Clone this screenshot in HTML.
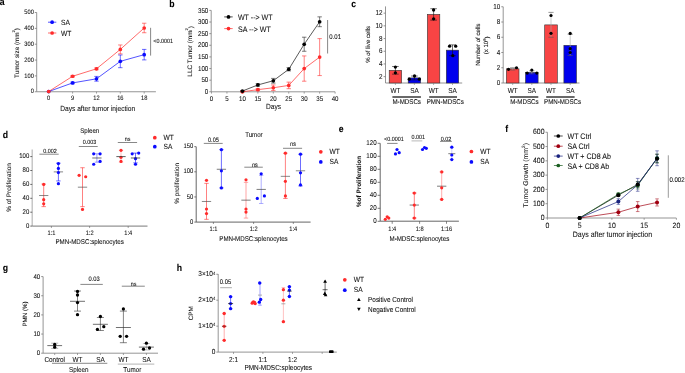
<!DOCTYPE html>
<html><head><meta charset="utf-8"><style>
html,body{margin:0;padding:0;background:#fff;width:685px;height:373px;overflow:hidden}
svg{display:block;will-change:transform;text-rendering:geometricPrecision;font-family:"Liberation Sans", sans-serif}
</style></head><body>
<svg width="685" height="373" viewBox="0 0 685 373">
<rect width="685" height="373" fill="#fff"/>
<text transform="translate(-0.3 1.5) scale(1 1.13)" font-size="8.7" text-anchor="start" fill="#000" stroke="#000" stroke-width="0.07" font-weight="bold" dominant-baseline="central">a</text>
<line x1="36.7" y1="12.5" x2="36.7" y2="91.75" stroke="#7a7a7a" stroke-width="0.8"/>
<line x1="34.8" y1="91.75" x2="36.7" y2="91.75" stroke="#7a7a7a" stroke-width="0.8"/>
<text transform="translate(33.8 92.25) scale(1 1.13)" font-size="5.7" text-anchor="end" fill="#111" stroke="#111" stroke-width="0.07" font-weight="normal" dominant-baseline="central">0</text>
<line x1="34.8" y1="75.9" x2="36.7" y2="75.9" stroke="#7a7a7a" stroke-width="0.8"/>
<text transform="translate(33.8 76.4) scale(1 1.13)" font-size="5.7" text-anchor="end" fill="#111" stroke="#111" stroke-width="0.07" font-weight="normal" dominant-baseline="central">100</text>
<line x1="34.8" y1="60.05" x2="36.7" y2="60.05" stroke="#7a7a7a" stroke-width="0.8"/>
<text transform="translate(33.8 60.55) scale(1 1.13)" font-size="5.7" text-anchor="end" fill="#111" stroke="#111" stroke-width="0.07" font-weight="normal" dominant-baseline="central">200</text>
<line x1="34.8" y1="44.2" x2="36.7" y2="44.2" stroke="#7a7a7a" stroke-width="0.8"/>
<text transform="translate(33.8 44.7) scale(1 1.13)" font-size="5.7" text-anchor="end" fill="#111" stroke="#111" stroke-width="0.07" font-weight="normal" dominant-baseline="central">300</text>
<line x1="34.8" y1="28.35" x2="36.7" y2="28.35" stroke="#7a7a7a" stroke-width="0.8"/>
<text transform="translate(33.8 28.85) scale(1 1.13)" font-size="5.7" text-anchor="end" fill="#111" stroke="#111" stroke-width="0.07" font-weight="normal" dominant-baseline="central">400</text>
<line x1="34.8" y1="12.5" x2="36.7" y2="12.5" stroke="#7a7a7a" stroke-width="0.8"/>
<text transform="translate(33.8 13) scale(1 1.13)" font-size="5.7" text-anchor="end" fill="#111" stroke="#111" stroke-width="0.07" font-weight="normal" dominant-baseline="central">500</text>
<line x1="36.7" y1="91.75" x2="155.9" y2="91.75" stroke="#7a7a7a" stroke-width="0.8"/>
<line x1="48.7" y1="91.75" x2="48.7" y2="93.55" stroke="#7a7a7a" stroke-width="0.7"/>
<text transform="translate(48.7 98.6) scale(1 1.13)" font-size="5.7" text-anchor="middle" fill="#111" stroke="#111" stroke-width="0.07" font-weight="normal" dominant-baseline="central">0</text>
<line x1="72.6" y1="91.75" x2="72.6" y2="93.55" stroke="#7a7a7a" stroke-width="0.7"/>
<text transform="translate(72.6 98.6) scale(1 1.13)" font-size="5.7" text-anchor="middle" fill="#111" stroke="#111" stroke-width="0.07" font-weight="normal" dominant-baseline="central">9</text>
<line x1="96.5" y1="91.75" x2="96.5" y2="93.55" stroke="#7a7a7a" stroke-width="0.7"/>
<text transform="translate(96.5 98.6) scale(1 1.13)" font-size="5.7" text-anchor="middle" fill="#111" stroke="#111" stroke-width="0.07" font-weight="normal" dominant-baseline="central">12</text>
<line x1="120.3" y1="91.75" x2="120.3" y2="93.55" stroke="#7a7a7a" stroke-width="0.7"/>
<text transform="translate(120.3 98.6) scale(1 1.13)" font-size="5.7" text-anchor="middle" fill="#111" stroke="#111" stroke-width="0.07" font-weight="normal" dominant-baseline="central">16</text>
<line x1="144.2" y1="91.75" x2="144.2" y2="93.55" stroke="#7a7a7a" stroke-width="0.7"/>
<text transform="translate(144.2 98.6) scale(1 1.13)" font-size="5.7" text-anchor="middle" fill="#111" stroke="#111" stroke-width="0.07" font-weight="normal" dominant-baseline="central">18</text>
<text transform="translate(97.7 108.9) scale(1 1.13)" font-size="6.6" text-anchor="middle" fill="#111" stroke="#111" stroke-width="0.07" font-weight="normal" dominant-baseline="central">Days after tumor injection</text>
<text transform="translate(17.2 53) rotate(-90)" font-size="6.35" text-anchor="middle" fill="#111" stroke="#111" stroke-width="0.07" font-weight="normal" dominant-baseline="central">Tumor size (mm<tspan dy="-4.6" font-size="4.0">2</tspan><tspan dy="4.6">)</tspan></text>
<line x1="72.6" y1="82.13" x2="72.6" y2="83.72" stroke="#0a0aff" stroke-width="0.6"/>
<line x1="70.4" y1="82.13" x2="74.8" y2="82.13" stroke="#0a0aff" stroke-width="0.6"/>
<line x1="70.4" y1="83.72" x2="74.8" y2="83.72" stroke="#0a0aff" stroke-width="0.6"/>
<line x1="72.6" y1="75.46" x2="72.6" y2="77.05" stroke="#ff2b2b" stroke-width="0.6"/>
<line x1="70.4" y1="75.46" x2="74.8" y2="75.46" stroke="#ff2b2b" stroke-width="0.6"/>
<line x1="70.4" y1="77.05" x2="74.8" y2="77.05" stroke="#ff2b2b" stroke-width="0.6"/>
<line x1="96.5" y1="76.41" x2="96.5" y2="81.18" stroke="#0a0aff" stroke-width="0.6"/>
<line x1="94.3" y1="76.41" x2="98.7" y2="76.41" stroke="#0a0aff" stroke-width="0.6"/>
<line x1="94.3" y1="81.18" x2="98.7" y2="81.18" stroke="#0a0aff" stroke-width="0.6"/>
<line x1="96.5" y1="67.84" x2="96.5" y2="69.74" stroke="#ff2b2b" stroke-width="0.6"/>
<line x1="94.3" y1="67.84" x2="98.7" y2="67.84" stroke="#ff2b2b" stroke-width="0.6"/>
<line x1="94.3" y1="69.74" x2="98.7" y2="69.74" stroke="#ff2b2b" stroke-width="0.6"/>
<line x1="120.3" y1="54.98" x2="120.3" y2="67.68" stroke="#0a0aff" stroke-width="0.6"/>
<line x1="118.1" y1="54.98" x2="122.5" y2="54.98" stroke="#0a0aff" stroke-width="0.6"/>
<line x1="118.1" y1="67.68" x2="122.5" y2="67.68" stroke="#0a0aff" stroke-width="0.6"/>
<line x1="120.3" y1="44.97" x2="120.3" y2="53.86" stroke="#ff2b2b" stroke-width="0.6"/>
<line x1="118.1" y1="44.97" x2="122.5" y2="44.97" stroke="#ff2b2b" stroke-width="0.6"/>
<line x1="118.1" y1="53.86" x2="122.5" y2="53.86" stroke="#ff2b2b" stroke-width="0.6"/>
<line x1="144.2" y1="49.42" x2="144.2" y2="59.9" stroke="#0a0aff" stroke-width="0.6"/>
<line x1="142" y1="49.42" x2="146.4" y2="49.42" stroke="#0a0aff" stroke-width="0.6"/>
<line x1="142" y1="59.9" x2="146.4" y2="59.9" stroke="#0a0aff" stroke-width="0.6"/>
<line x1="144.2" y1="23.22" x2="144.2" y2="32.74" stroke="#ff2b2b" stroke-width="0.6"/>
<line x1="142" y1="23.22" x2="146.4" y2="23.22" stroke="#ff2b2b" stroke-width="0.6"/>
<line x1="142" y1="32.74" x2="146.4" y2="32.74" stroke="#ff2b2b" stroke-width="0.6"/>
<polyline points="48.7,91.5 72.6,82.92 96.5,78.8 120.3,61.33 144.2,54.66" fill="none" stroke="#0a0aff" stroke-width="0.7"/>
<polyline points="48.7,91.5 72.6,76.26 96.5,68.79 120.3,49.42 144.2,27.98" fill="none" stroke="#ff2b2b" stroke-width="0.7"/>
<circle cx="48.7" cy="91.5" r="1.85" fill="#0a0aff"/>
<circle cx="72.6" cy="82.92" r="1.85" fill="#0a0aff"/>
<circle cx="96.5" cy="78.8" r="1.85" fill="#0a0aff"/>
<circle cx="120.3" cy="61.33" r="1.85" fill="#0a0aff"/>
<circle cx="144.2" cy="54.66" r="1.85" fill="#0a0aff"/>
<circle cx="48.7" cy="91.5" r="1.85" fill="#ff2b2b"/>
<circle cx="72.6" cy="76.26" r="1.85" fill="#ff2b2b"/>
<circle cx="96.5" cy="68.79" r="1.85" fill="#ff2b2b"/>
<circle cx="120.3" cy="49.42" r="1.85" fill="#ff2b2b"/>
<circle cx="144.2" cy="27.98" r="1.85" fill="#ff2b2b"/>
<line x1="150.6" y1="27.8" x2="150.6" y2="55.6" stroke="#555" stroke-width="0.7"/>
<text transform="translate(153.3 42) scale(1 1.13)" font-size="5.4" text-anchor="start" fill="#111" stroke="#111" stroke-width="0.07" font-weight="normal" dominant-baseline="central">&lt;0.0001</text>
<line x1="48" y1="22.2" x2="56.3" y2="22.2" stroke="#0a0aff" stroke-width="0.7"/>
<circle cx="52.1" cy="22.2" r="1.85" fill="#0a0aff"/>
<text transform="translate(61 23.2) scale(1 1.13)" font-size="6.7" text-anchor="start" fill="#111" stroke="#111" stroke-width="0.07" font-weight="normal" dominant-baseline="central">SA</text>
<line x1="48" y1="33" x2="56.3" y2="33" stroke="#ff2b2b" stroke-width="0.7"/>
<circle cx="52.1" cy="33" r="1.85" fill="#ff2b2b"/>
<text transform="translate(61 34) scale(1 1.13)" font-size="6.7" text-anchor="start" fill="#111" stroke="#111" stroke-width="0.07" font-weight="normal" dominant-baseline="central">WT</text>
<text transform="translate(169.3 3.7) scale(1 1.13)" font-size="8.7" text-anchor="start" fill="#000" stroke="#000" stroke-width="0.07" font-weight="bold" dominant-baseline="central">b</text>
<line x1="211.2" y1="10.4" x2="211.2" y2="91.8" stroke="#7a7a7a" stroke-width="0.8"/>
<line x1="209.3" y1="91.8" x2="211.2" y2="91.8" stroke="#7a7a7a" stroke-width="0.8"/>
<text transform="translate(208.3 92.3) scale(1 1.13)" font-size="6.2" text-anchor="end" fill="#111" stroke="#111" stroke-width="0.07" font-weight="normal" dominant-baseline="central">0</text>
<line x1="209.3" y1="80.17" x2="211.2" y2="80.17" stroke="#7a7a7a" stroke-width="0.8"/>
<text transform="translate(208.3 80.67) scale(1 1.13)" font-size="6.2" text-anchor="end" fill="#111" stroke="#111" stroke-width="0.07" font-weight="normal" dominant-baseline="central">50</text>
<line x1="209.3" y1="68.54" x2="211.2" y2="68.54" stroke="#7a7a7a" stroke-width="0.8"/>
<text transform="translate(208.3 69.04) scale(1 1.13)" font-size="6.2" text-anchor="end" fill="#111" stroke="#111" stroke-width="0.07" font-weight="normal" dominant-baseline="central">100</text>
<line x1="209.3" y1="56.91" x2="211.2" y2="56.91" stroke="#7a7a7a" stroke-width="0.8"/>
<text transform="translate(208.3 57.41) scale(1 1.13)" font-size="6.2" text-anchor="end" fill="#111" stroke="#111" stroke-width="0.07" font-weight="normal" dominant-baseline="central">150</text>
<line x1="209.3" y1="45.28" x2="211.2" y2="45.28" stroke="#7a7a7a" stroke-width="0.8"/>
<text transform="translate(208.3 45.78) scale(1 1.13)" font-size="6.2" text-anchor="end" fill="#111" stroke="#111" stroke-width="0.07" font-weight="normal" dominant-baseline="central">200</text>
<line x1="209.3" y1="33.65" x2="211.2" y2="33.65" stroke="#7a7a7a" stroke-width="0.8"/>
<text transform="translate(208.3 34.15) scale(1 1.13)" font-size="6.2" text-anchor="end" fill="#111" stroke="#111" stroke-width="0.07" font-weight="normal" dominant-baseline="central">250</text>
<line x1="209.3" y1="22.02" x2="211.2" y2="22.02" stroke="#7a7a7a" stroke-width="0.8"/>
<text transform="translate(208.3 22.52) scale(1 1.13)" font-size="6.2" text-anchor="end" fill="#111" stroke="#111" stroke-width="0.07" font-weight="normal" dominant-baseline="central">300</text>
<line x1="209.3" y1="10.39" x2="211.2" y2="10.39" stroke="#7a7a7a" stroke-width="0.8"/>
<text transform="translate(208.3 10.89) scale(1 1.13)" font-size="6.2" text-anchor="end" fill="#111" stroke="#111" stroke-width="0.07" font-weight="normal" dominant-baseline="central">350</text>
<line x1="211.2" y1="91.8" x2="335.1" y2="91.8" stroke="#7a7a7a" stroke-width="0.8"/>
<line x1="211.5" y1="91.8" x2="211.5" y2="93.6" stroke="#7a7a7a" stroke-width="0.7"/>
<text transform="translate(211.5 98.9) scale(1 1.13)" font-size="6.1" text-anchor="middle" fill="#111" stroke="#111" stroke-width="0.07" font-weight="normal" dominant-baseline="central">0</text>
<line x1="226.95" y1="91.8" x2="226.95" y2="93.6" stroke="#7a7a7a" stroke-width="0.7"/>
<text transform="translate(226.95 98.9) scale(1 1.13)" font-size="6.1" text-anchor="middle" fill="#111" stroke="#111" stroke-width="0.07" font-weight="normal" dominant-baseline="central">5</text>
<line x1="242.4" y1="91.8" x2="242.4" y2="93.6" stroke="#7a7a7a" stroke-width="0.7"/>
<text transform="translate(242.4 98.9) scale(1 1.13)" font-size="6.1" text-anchor="middle" fill="#111" stroke="#111" stroke-width="0.07" font-weight="normal" dominant-baseline="central">10</text>
<line x1="257.85" y1="91.8" x2="257.85" y2="93.6" stroke="#7a7a7a" stroke-width="0.7"/>
<text transform="translate(257.85 98.9) scale(1 1.13)" font-size="6.1" text-anchor="middle" fill="#111" stroke="#111" stroke-width="0.07" font-weight="normal" dominant-baseline="central">15</text>
<line x1="273.3" y1="91.8" x2="273.3" y2="93.6" stroke="#7a7a7a" stroke-width="0.7"/>
<text transform="translate(273.3 98.9) scale(1 1.13)" font-size="6.1" text-anchor="middle" fill="#111" stroke="#111" stroke-width="0.07" font-weight="normal" dominant-baseline="central">20</text>
<line x1="288.75" y1="91.8" x2="288.75" y2="93.6" stroke="#7a7a7a" stroke-width="0.7"/>
<text transform="translate(288.75 98.9) scale(1 1.13)" font-size="6.1" text-anchor="middle" fill="#111" stroke="#111" stroke-width="0.07" font-weight="normal" dominant-baseline="central">25</text>
<line x1="304.2" y1="91.8" x2="304.2" y2="93.6" stroke="#7a7a7a" stroke-width="0.7"/>
<text transform="translate(304.2 98.9) scale(1 1.13)" font-size="6.1" text-anchor="middle" fill="#111" stroke="#111" stroke-width="0.07" font-weight="normal" dominant-baseline="central">30</text>
<line x1="319.65" y1="91.8" x2="319.65" y2="93.6" stroke="#7a7a7a" stroke-width="0.7"/>
<text transform="translate(319.65 98.9) scale(1 1.13)" font-size="6.1" text-anchor="middle" fill="#111" stroke="#111" stroke-width="0.07" font-weight="normal" dominant-baseline="central">35</text>
<line x1="335.1" y1="91.8" x2="335.1" y2="93.6" stroke="#7a7a7a" stroke-width="0.7"/>
<text transform="translate(335.1 98.9) scale(1 1.13)" font-size="6.1" text-anchor="middle" fill="#111" stroke="#111" stroke-width="0.07" font-weight="normal" dominant-baseline="central">40</text>
<text transform="translate(273.5 107.7) scale(1 1.13)" font-size="6.6" text-anchor="middle" fill="#111" stroke="#111" stroke-width="0.07" font-weight="normal" dominant-baseline="central">Days</text>
<text transform="translate(190.5 51.4) rotate(-90)" font-size="6.4" text-anchor="middle" fill="#111" stroke="#111" stroke-width="0.07" font-weight="normal" dominant-baseline="central">LLC Tumor (mm<tspan dy="-4.4" font-size="4.0">2</tspan><tspan dy="4.4">)</tspan></text>
<line x1="242.4" y1="91.27" x2="242.4" y2="91.8" stroke="#ff2b2b" stroke-width="0.6"/>
<line x1="240.2" y1="91.27" x2="244.6" y2="91.27" stroke="#ff2b2b" stroke-width="0.6"/>
<line x1="240.2" y1="91.8" x2="244.6" y2="91.8" stroke="#ff2b2b" stroke-width="0.6"/>
<line x1="242.4" y1="90.56" x2="242.4" y2="91.8" stroke="#222" stroke-width="0.6"/>
<line x1="240.2" y1="90.56" x2="244.6" y2="90.56" stroke="#222" stroke-width="0.6"/>
<line x1="240.2" y1="91.8" x2="244.6" y2="91.8" stroke="#222" stroke-width="0.6"/>
<line x1="257.85" y1="88.69" x2="257.85" y2="90.56" stroke="#ff2b2b" stroke-width="0.6"/>
<line x1="255.65" y1="88.69" x2="260.05" y2="88.69" stroke="#ff2b2b" stroke-width="0.6"/>
<line x1="255.65" y1="90.56" x2="260.05" y2="90.56" stroke="#ff2b2b" stroke-width="0.6"/>
<line x1="257.85" y1="83.78" x2="257.85" y2="86.12" stroke="#222" stroke-width="0.6"/>
<line x1="255.65" y1="83.78" x2="260.05" y2="83.78" stroke="#222" stroke-width="0.6"/>
<line x1="255.65" y1="86.12" x2="260.05" y2="86.12" stroke="#222" stroke-width="0.6"/>
<line x1="273.3" y1="84.95" x2="273.3" y2="90.56" stroke="#ff2b2b" stroke-width="0.6"/>
<line x1="271.1" y1="84.95" x2="275.5" y2="84.95" stroke="#ff2b2b" stroke-width="0.6"/>
<line x1="271.1" y1="90.56" x2="275.5" y2="90.56" stroke="#ff2b2b" stroke-width="0.6"/>
<line x1="273.3" y1="78.4" x2="273.3" y2="83.08" stroke="#222" stroke-width="0.6"/>
<line x1="271.1" y1="78.4" x2="275.5" y2="78.4" stroke="#222" stroke-width="0.6"/>
<line x1="271.1" y1="83.08" x2="275.5" y2="83.08" stroke="#222" stroke-width="0.6"/>
<line x1="288.75" y1="82.14" x2="288.75" y2="88.69" stroke="#ff2b2b" stroke-width="0.6"/>
<line x1="286.55" y1="82.14" x2="290.95" y2="82.14" stroke="#ff2b2b" stroke-width="0.6"/>
<line x1="286.55" y1="88.69" x2="290.95" y2="88.69" stroke="#ff2b2b" stroke-width="0.6"/>
<line x1="288.75" y1="67.63" x2="288.75" y2="70.91" stroke="#222" stroke-width="0.6"/>
<line x1="286.55" y1="67.63" x2="290.95" y2="67.63" stroke="#222" stroke-width="0.6"/>
<line x1="286.55" y1="70.91" x2="290.95" y2="70.91" stroke="#222" stroke-width="0.6"/>
<line x1="304.2" y1="55.93" x2="304.2" y2="81.2" stroke="#ff2b2b" stroke-width="0.6"/>
<line x1="302" y1="55.93" x2="306.4" y2="55.93" stroke="#ff2b2b" stroke-width="0.6"/>
<line x1="302" y1="81.2" x2="306.4" y2="81.2" stroke="#ff2b2b" stroke-width="0.6"/>
<line x1="304.2" y1="37.21" x2="304.2" y2="51.25" stroke="#222" stroke-width="0.6"/>
<line x1="302" y1="37.21" x2="306.4" y2="37.21" stroke="#222" stroke-width="0.6"/>
<line x1="302" y1="51.25" x2="306.4" y2="51.25" stroke="#222" stroke-width="0.6"/>
<line x1="319.65" y1="38.62" x2="319.65" y2="75.59" stroke="#ff2b2b" stroke-width="0.6"/>
<line x1="317.45" y1="38.62" x2="321.85" y2="38.62" stroke="#ff2b2b" stroke-width="0.6"/>
<line x1="317.45" y1="75.59" x2="321.85" y2="75.59" stroke="#ff2b2b" stroke-width="0.6"/>
<line x1="319.65" y1="16.85" x2="319.65" y2="26.68" stroke="#222" stroke-width="0.6"/>
<line x1="317.45" y1="16.85" x2="321.85" y2="16.85" stroke="#222" stroke-width="0.6"/>
<line x1="317.45" y1="26.68" x2="321.85" y2="26.68" stroke="#222" stroke-width="0.6"/>
<polyline points="242.4,91.03 257.85,84.95 273.3,80.74 288.75,69.27 304.2,44.23 319.65,21.77" fill="none" stroke="#111" stroke-width="0.7"/>
<polyline points="242.4,91.8 257.85,89.63 273.3,87.76 288.75,85.42 304.2,68.57 319.65,57.1" fill="none" stroke="#ff2b2b" stroke-width="0.7"/>
<circle cx="242.4" cy="91.8" r="1.85" fill="#ff2b2b"/>
<circle cx="257.85" cy="89.63" r="1.85" fill="#ff2b2b"/>
<circle cx="273.3" cy="87.76" r="1.85" fill="#ff2b2b"/>
<circle cx="288.75" cy="85.42" r="1.85" fill="#ff2b2b"/>
<circle cx="304.2" cy="68.57" r="1.85" fill="#ff2b2b"/>
<circle cx="319.65" cy="57.1" r="1.85" fill="#ff2b2b"/>
<circle cx="242.4" cy="91.03" r="1.85" fill="#000"/>
<circle cx="257.85" cy="84.95" r="1.85" fill="#000"/>
<circle cx="273.3" cy="80.74" r="1.85" fill="#000"/>
<circle cx="288.75" cy="69.27" r="1.85" fill="#000"/>
<circle cx="304.2" cy="44.23" r="1.85" fill="#000"/>
<circle cx="319.65" cy="21.77" r="1.85" fill="#000"/>
<line x1="327.6" y1="20" x2="327.6" y2="53.5" stroke="#555" stroke-width="0.7"/>
<text transform="translate(329.3 37.7) scale(1 1.13)" font-size="6" text-anchor="start" fill="#111" stroke="#111" stroke-width="0.07" font-weight="normal" dominant-baseline="central">0.01</text>
<line x1="224.2" y1="16.9" x2="232.7" y2="16.9" stroke="#000" stroke-width="0.7"/>
<circle cx="228.5" cy="16.9" r="1.85" fill="#000"/>
<text transform="translate(237.9 17.7) scale(1 1.13)" font-size="7.1" text-anchor="start" fill="#111" stroke="#111" stroke-width="0.07" font-weight="normal" dominant-baseline="central">WT --&gt; WT</text>
<line x1="224.2" y1="28.6" x2="232.7" y2="28.6" stroke="#ff2b2b" stroke-width="0.7"/>
<circle cx="228.5" cy="28.6" r="1.85" fill="#ff2b2b"/>
<text transform="translate(237.9 29.4) scale(1 1.13)" font-size="7.1" text-anchor="start" fill="#111" stroke="#111" stroke-width="0.07" font-weight="normal" dominant-baseline="central">SA --&gt; WT</text>
<text transform="translate(351.3 3.7) scale(1 1.13)" font-size="8.7" text-anchor="start" fill="#000" stroke="#000" stroke-width="0.07" font-weight="bold" dominant-baseline="central">c</text>
<line x1="385.5" y1="6.4" x2="385.5" y2="83" stroke="#7a7a7a" stroke-width="0.8"/>
<line x1="383.6" y1="76.65" x2="385.5" y2="76.65" stroke="#7a7a7a" stroke-width="0.8"/>
<text transform="translate(382.6 77.15) scale(1 1.13)" font-size="6.3" text-anchor="end" fill="#111" stroke="#111" stroke-width="0.07" font-weight="normal" dominant-baseline="central">2</text>
<line x1="383.6" y1="63.95" x2="385.5" y2="63.95" stroke="#7a7a7a" stroke-width="0.8"/>
<text transform="translate(382.6 64.45) scale(1 1.13)" font-size="6.3" text-anchor="end" fill="#111" stroke="#111" stroke-width="0.07" font-weight="normal" dominant-baseline="central">4</text>
<line x1="383.6" y1="51.25" x2="385.5" y2="51.25" stroke="#7a7a7a" stroke-width="0.8"/>
<text transform="translate(382.6 51.75) scale(1 1.13)" font-size="6.3" text-anchor="end" fill="#111" stroke="#111" stroke-width="0.07" font-weight="normal" dominant-baseline="central">6</text>
<line x1="383.6" y1="38.55" x2="385.5" y2="38.55" stroke="#7a7a7a" stroke-width="0.8"/>
<text transform="translate(382.6 39.05) scale(1 1.13)" font-size="6.3" text-anchor="end" fill="#111" stroke="#111" stroke-width="0.07" font-weight="normal" dominant-baseline="central">8</text>
<line x1="383.6" y1="25.85" x2="385.5" y2="25.85" stroke="#7a7a7a" stroke-width="0.8"/>
<text transform="translate(382.6 26.35) scale(1 1.13)" font-size="6.3" text-anchor="end" fill="#111" stroke="#111" stroke-width="0.07" font-weight="normal" dominant-baseline="central">10</text>
<line x1="383.6" y1="13.15" x2="385.5" y2="13.15" stroke="#7a7a7a" stroke-width="0.8"/>
<text transform="translate(382.6 13.65) scale(1 1.13)" font-size="6.3" text-anchor="end" fill="#111" stroke="#111" stroke-width="0.07" font-weight="normal" dominant-baseline="central">12</text>
<line x1="385.5" y1="83" x2="462.2" y2="83" stroke="#7a7a7a" stroke-width="0.8"/>
<rect x="389.2" y="70.3" width="12.4" height="12.7" fill="#f84444" stroke="#333" stroke-width="0.6"/>
<line x1="395.4" y1="66.49" x2="395.4" y2="74.11" stroke="#111" stroke-width="0.6"/>
<line x1="392.1" y1="66.49" x2="398.7" y2="66.49" stroke="#111" stroke-width="0.6"/>
<line x1="392.1" y1="74.11" x2="398.7" y2="74.11" stroke="#111" stroke-width="0.6"/>
<circle cx="395.4" cy="67.12" r="1.65" fill="#000"/>
<circle cx="395.4" cy="72.84" r="1.65" fill="#000"/>
<line x1="395.4" y1="83" x2="395.4" y2="85" stroke="#7a7a7a" stroke-width="0.6"/>
<rect x="408.2" y="77.92" width="12.4" height="5.08" fill="#0000ee" stroke="#333" stroke-width="0.6"/>
<line x1="414.4" y1="76.02" x2="414.4" y2="79.83" stroke="#111" stroke-width="0.6"/>
<line x1="411.1" y1="76.02" x2="417.7" y2="76.02" stroke="#111" stroke-width="0.6"/>
<line x1="411.1" y1="79.83" x2="417.7" y2="79.83" stroke="#111" stroke-width="0.6"/>
<circle cx="409.3" cy="79.19" r="1.65" fill="#000"/>
<circle cx="414.5" cy="76.02" r="1.65" fill="#000"/>
<circle cx="419.3" cy="79.19" r="1.65" fill="#000"/>
<line x1="414.4" y1="83" x2="414.4" y2="85" stroke="#7a7a7a" stroke-width="0.6"/>
<rect x="427.4" y="14.42" width="12.4" height="68.58" fill="#f84444" stroke="#333" stroke-width="0.6"/>
<line x1="433.6" y1="8.71" x2="433.6" y2="20.13" stroke="#111" stroke-width="0.6"/>
<line x1="430.3" y1="8.71" x2="436.9" y2="8.71" stroke="#111" stroke-width="0.6"/>
<line x1="430.3" y1="20.13" x2="436.9" y2="20.13" stroke="#111" stroke-width="0.6"/>
<circle cx="433.6" cy="9.98" r="1.65" fill="#000"/>
<circle cx="433.6" cy="18.87" r="1.65" fill="#000"/>
<line x1="433.6" y1="83" x2="433.6" y2="85" stroke="#7a7a7a" stroke-width="0.6"/>
<rect x="446.3" y="50.17" width="12.4" height="32.83" fill="#0000ee" stroke="#333" stroke-width="0.6"/>
<line x1="452.5" y1="44.9" x2="452.5" y2="55.7" stroke="#111" stroke-width="0.6"/>
<line x1="449.2" y1="44.9" x2="455.8" y2="44.9" stroke="#111" stroke-width="0.6"/>
<line x1="449.2" y1="55.7" x2="455.8" y2="55.7" stroke="#111" stroke-width="0.6"/>
<circle cx="449.6" cy="46.17" r="1.65" fill="#000"/>
<circle cx="455.7" cy="46.17" r="1.65" fill="#000"/>
<circle cx="452.8" cy="55.7" r="1.65" fill="#000"/>
<line x1="452.5" y1="83" x2="452.5" y2="85" stroke="#7a7a7a" stroke-width="0.6"/>
<text transform="translate(395.4 91.3) scale(1 1.13)" font-size="6.4" text-anchor="middle" fill="#111" stroke="#111" stroke-width="0.07" font-weight="normal" dominant-baseline="central">WT</text>
<text transform="translate(414.4 91.3) scale(1 1.13)" font-size="6.4" text-anchor="middle" fill="#111" stroke="#111" stroke-width="0.07" font-weight="normal" dominant-baseline="central">SA</text>
<text transform="translate(433.6 91.3) scale(1 1.13)" font-size="6.4" text-anchor="middle" fill="#111" stroke="#111" stroke-width="0.07" font-weight="normal" dominant-baseline="central">WT</text>
<text transform="translate(452.5 91.3) scale(1 1.13)" font-size="6.4" text-anchor="middle" fill="#111" stroke="#111" stroke-width="0.07" font-weight="normal" dominant-baseline="central">SA</text>
<line x1="392.4" y1="97" x2="420.9" y2="97" stroke="#444" stroke-width="1.6"/>
<text transform="translate(406.7 102.8) scale(1 1.13)" font-size="6.2" text-anchor="middle" fill="#111" stroke="#111" stroke-width="0.07" font-weight="normal" dominant-baseline="central">M-MDSCs</text>
<line x1="429.2" y1="97" x2="457" y2="97" stroke="#444" stroke-width="1.6"/>
<text transform="translate(445.3 102.8) scale(1 1.13)" font-size="6.2" text-anchor="middle" fill="#111" stroke="#111" stroke-width="0.07" font-weight="normal" dominant-baseline="central">PMN-MDSCs</text>
<text transform="translate(368.5 44.3) rotate(-90)" font-size="6.1" text-anchor="middle" fill="#111" stroke="#111" stroke-width="0.07" font-weight="normal" dominant-baseline="central">% of live cells</text>
<line x1="503.2" y1="6.75" x2="503.2" y2="83" stroke="#7a7a7a" stroke-width="0.8"/>
<line x1="501.3" y1="83" x2="503.2" y2="83" stroke="#7a7a7a" stroke-width="0.8"/>
<text transform="translate(500.3 83.5) scale(1 1.13)" font-size="6.3" text-anchor="end" fill="#111" stroke="#111" stroke-width="0.07" font-weight="normal" dominant-baseline="central">0</text>
<line x1="501.3" y1="67.75" x2="503.2" y2="67.75" stroke="#7a7a7a" stroke-width="0.8"/>
<text transform="translate(500.3 68.25) scale(1 1.13)" font-size="6.3" text-anchor="end" fill="#111" stroke="#111" stroke-width="0.07" font-weight="normal" dominant-baseline="central">2</text>
<line x1="501.3" y1="52.5" x2="503.2" y2="52.5" stroke="#7a7a7a" stroke-width="0.8"/>
<text transform="translate(500.3 53) scale(1 1.13)" font-size="6.3" text-anchor="end" fill="#111" stroke="#111" stroke-width="0.07" font-weight="normal" dominant-baseline="central">4</text>
<line x1="501.3" y1="37.25" x2="503.2" y2="37.25" stroke="#7a7a7a" stroke-width="0.8"/>
<text transform="translate(500.3 37.75) scale(1 1.13)" font-size="6.3" text-anchor="end" fill="#111" stroke="#111" stroke-width="0.07" font-weight="normal" dominant-baseline="central">6</text>
<line x1="501.3" y1="22" x2="503.2" y2="22" stroke="#7a7a7a" stroke-width="0.8"/>
<text transform="translate(500.3 22.5) scale(1 1.13)" font-size="6.3" text-anchor="end" fill="#111" stroke="#111" stroke-width="0.07" font-weight="normal" dominant-baseline="central">8</text>
<line x1="501.3" y1="6.75" x2="503.2" y2="6.75" stroke="#7a7a7a" stroke-width="0.8"/>
<text transform="translate(500.3 7.25) scale(1 1.13)" font-size="6.3" text-anchor="end" fill="#111" stroke="#111" stroke-width="0.07" font-weight="normal" dominant-baseline="central">10</text>
<line x1="503.2" y1="83" x2="579.5" y2="83" stroke="#7a7a7a" stroke-width="0.8"/>
<rect x="506.4" y="68.82" width="12.6" height="14.18" fill="#f84444" stroke="#333" stroke-width="0.6"/>
<line x1="512.7" y1="67.75" x2="512.7" y2="70.04" stroke="#aaa" stroke-width="0.6"/>
<line x1="510.1" y1="67.75" x2="515.3" y2="67.75" stroke="#555" stroke-width="0.6"/>
<line x1="510.1" y1="70.04" x2="515.3" y2="70.04" stroke="#555" stroke-width="0.6"/>
<circle cx="508.5" cy="69.28" r="1.6" fill="#000"/>
<circle cx="516.5" cy="67.75" r="1.6" fill="#000"/>
<line x1="512.7" y1="83" x2="512.7" y2="85" stroke="#7a7a7a" stroke-width="0.6"/>
<rect x="525.5" y="72.48" width="12.6" height="10.52" fill="#0000ee" stroke="#333" stroke-width="0.6"/>
<line x1="531.8" y1="70.8" x2="531.8" y2="73.85" stroke="#aaa" stroke-width="0.6"/>
<line x1="529.2" y1="70.8" x2="534.4" y2="70.8" stroke="#555" stroke-width="0.6"/>
<line x1="529.2" y1="73.85" x2="534.4" y2="73.85" stroke="#555" stroke-width="0.6"/>
<circle cx="527.2" cy="73.09" r="1.6" fill="#000"/>
<circle cx="531.8" cy="70.04" r="1.6" fill="#000"/>
<circle cx="536.8" cy="73.09" r="1.6" fill="#000"/>
<line x1="531.8" y1="83" x2="531.8" y2="85" stroke="#7a7a7a" stroke-width="0.6"/>
<rect x="544.7" y="24.9" width="12.6" height="58.1" fill="#f84444" stroke="#333" stroke-width="0.6"/>
<line x1="551" y1="12.39" x2="551" y2="37.25" stroke="#aaa" stroke-width="0.6"/>
<line x1="548.4" y1="12.39" x2="553.6" y2="12.39" stroke="#555" stroke-width="0.6"/>
<line x1="548.4" y1="37.25" x2="553.6" y2="37.25" stroke="#555" stroke-width="0.6"/>
<circle cx="551" cy="15.52" r="1.6" fill="#000"/>
<circle cx="551" cy="33.29" r="1.6" fill="#000"/>
<line x1="551" y1="83" x2="551" y2="85" stroke="#7a7a7a" stroke-width="0.6"/>
<rect x="563.9" y="45.33" width="12.6" height="37.67" fill="#0000ee" stroke="#333" stroke-width="0.6"/>
<line x1="570.2" y1="34.2" x2="570.2" y2="55.55" stroke="#aaa" stroke-width="0.6"/>
<line x1="567.6" y1="34.2" x2="572.8" y2="34.2" stroke="#555" stroke-width="0.6"/>
<line x1="567.6" y1="55.55" x2="572.8" y2="55.55" stroke="#555" stroke-width="0.6"/>
<circle cx="570.2" cy="33.44" r="1.6" fill="#000"/>
<circle cx="570.2" cy="48.69" r="1.6" fill="#000"/>
<circle cx="570.2" cy="52.5" r="1.6" fill="#000"/>
<line x1="570.2" y1="83" x2="570.2" y2="85" stroke="#7a7a7a" stroke-width="0.6"/>
<text transform="translate(512.7 91.3) scale(1 1.13)" font-size="6.4" text-anchor="middle" fill="#111" stroke="#111" stroke-width="0.07" font-weight="normal" dominant-baseline="central">WT</text>
<text transform="translate(531.8 91.3) scale(1 1.13)" font-size="6.4" text-anchor="middle" fill="#111" stroke="#111" stroke-width="0.07" font-weight="normal" dominant-baseline="central">SA</text>
<text transform="translate(551 91.3) scale(1 1.13)" font-size="6.4" text-anchor="middle" fill="#111" stroke="#111" stroke-width="0.07" font-weight="normal" dominant-baseline="central">WT</text>
<text transform="translate(570.2 91.3) scale(1 1.13)" font-size="6.4" text-anchor="middle" fill="#111" stroke="#111" stroke-width="0.07" font-weight="normal" dominant-baseline="central">SA</text>
<line x1="510" y1="97" x2="538.3" y2="97" stroke="#444" stroke-width="1.6"/>
<text transform="translate(524.4 102.8) scale(1 1.13)" font-size="6.2" text-anchor="middle" fill="#111" stroke="#111" stroke-width="0.07" font-weight="normal" dominant-baseline="central">M-MDSCs</text>
<line x1="546.2" y1="97" x2="574.6" y2="97" stroke="#444" stroke-width="1.6"/>
<text transform="translate(562.6 102.8) scale(1 1.13)" font-size="6.2" text-anchor="middle" fill="#111" stroke="#111" stroke-width="0.07" font-weight="normal" dominant-baseline="central">PMN-MDSCs</text>
<text transform="translate(478.1 44.5) rotate(-90)" font-size="6.1" text-anchor="middle" fill="#111" stroke="#111" stroke-width="0.07" font-weight="normal" dominant-baseline="central">Number of cells</text>
<text transform="translate(486.5 45.4) rotate(-90)" font-size="6.1" text-anchor="middle" fill="#111" stroke="#111" stroke-width="0.07" font-weight="normal" dominant-baseline="central">(x 10<tspan dy="-2.5" font-size="4.1">8</tspan><tspan dy="2.5">)</tspan></text>
<text transform="translate(2.8 134.5) scale(1 1.13)" font-size="8.7" text-anchor="start" fill="#000" stroke="#000" stroke-width="0.07" font-weight="bold" dominant-baseline="central">d</text>
<line x1="32.2" y1="149.4" x2="32.2" y2="226.1" stroke="#bdbdbd" stroke-width="1.3"/>
<line x1="30.3" y1="226.1" x2="32.2" y2="226.1" stroke="#444" stroke-width="0.8"/>
<text transform="translate(29.3 226.6) scale(1 1.13)" font-size="6" text-anchor="end" fill="#111" stroke="#111" stroke-width="0.07" font-weight="normal" dominant-baseline="central">0</text>
<line x1="30.3" y1="212.2" x2="32.2" y2="212.2" stroke="#444" stroke-width="0.8"/>
<text transform="translate(29.3 212.7) scale(1 1.13)" font-size="6" text-anchor="end" fill="#111" stroke="#111" stroke-width="0.07" font-weight="normal" dominant-baseline="central">20</text>
<line x1="30.3" y1="198.3" x2="32.2" y2="198.3" stroke="#444" stroke-width="0.8"/>
<text transform="translate(29.3 198.8) scale(1 1.13)" font-size="6" text-anchor="end" fill="#111" stroke="#111" stroke-width="0.07" font-weight="normal" dominant-baseline="central">40</text>
<line x1="30.3" y1="184.4" x2="32.2" y2="184.4" stroke="#444" stroke-width="0.8"/>
<text transform="translate(29.3 184.9) scale(1 1.13)" font-size="6" text-anchor="end" fill="#111" stroke="#111" stroke-width="0.07" font-weight="normal" dominant-baseline="central">60</text>
<line x1="30.3" y1="170.5" x2="32.2" y2="170.5" stroke="#444" stroke-width="0.8"/>
<text transform="translate(29.3 171) scale(1 1.13)" font-size="6" text-anchor="end" fill="#111" stroke="#111" stroke-width="0.07" font-weight="normal" dominant-baseline="central">80</text>
<line x1="30.3" y1="156.6" x2="32.2" y2="156.6" stroke="#444" stroke-width="0.8"/>
<text transform="translate(29.3 157.1) scale(1 1.13)" font-size="6" text-anchor="end" fill="#111" stroke="#111" stroke-width="0.07" font-weight="normal" dominant-baseline="central">100</text>
<line x1="32.2" y1="226.1" x2="147.5" y2="226.1" stroke="#6a6a6a" stroke-width="0.9"/>
<line x1="51.4" y1="226.1" x2="51.4" y2="227.9" stroke="#6a6a6a" stroke-width="0.7"/>
<text transform="translate(51.4 233.5) scale(1 1.13)" font-size="5.7" text-anchor="middle" fill="#111" stroke="#111" stroke-width="0.07" font-weight="normal" dominant-baseline="central">1:1</text>
<line x1="89.6" y1="226.1" x2="89.6" y2="227.9" stroke="#6a6a6a" stroke-width="0.7"/>
<text transform="translate(89.6 233.5) scale(1 1.13)" font-size="5.7" text-anchor="middle" fill="#111" stroke="#111" stroke-width="0.07" font-weight="normal" dominant-baseline="central">1:2</text>
<line x1="128.2" y1="226.1" x2="128.2" y2="227.9" stroke="#6a6a6a" stroke-width="0.7"/>
<text transform="translate(128.2 233.5) scale(1 1.13)" font-size="5.7" text-anchor="middle" fill="#111" stroke="#111" stroke-width="0.07" font-weight="normal" dominant-baseline="central">1:4</text>
<text transform="translate(89.6 241.9) scale(1 1.13)" font-size="6.2" text-anchor="middle" fill="#111" stroke="#111" stroke-width="0.07" font-weight="normal" dominant-baseline="central">PMN-MDSC:splenocytes</text>
<text transform="translate(9.8 187.5) rotate(-90)" font-size="6.4" text-anchor="middle" fill="#111" stroke="#111" stroke-width="0.07" font-weight="normal" dominant-baseline="central">% of Proliferation</text>
<text transform="translate(89.7 131.5) scale(1 1.13)" font-size="6.1" text-anchor="middle" fill="#111" stroke="#111" stroke-width="0.07" font-weight="normal" dominant-baseline="central">Spleen</text>
<line x1="43.7" y1="206.64" x2="43.7" y2="184.05" stroke="#ff2b2b" stroke-width="0.6"/>
<line x1="41.5" y1="206.64" x2="45.9" y2="206.64" stroke="#ff2b2b" stroke-width="0.6"/>
<line x1="41.5" y1="184.05" x2="45.9" y2="184.05" stroke="#ff2b2b" stroke-width="0.6"/>
<line x1="39.05" y1="195.52" x2="48.35" y2="195.52" stroke="#555" stroke-width="0.7"/>
<circle cx="43.7" cy="184.4" r="1.6" fill="#ff2b2b"/>
<circle cx="43.7" cy="199.69" r="1.6" fill="#ff2b2b"/>
<circle cx="43.7" cy="203.86" r="1.6" fill="#ff2b2b"/>
<line x1="58.4" y1="180.93" x2="58.4" y2="163.2" stroke="#0a0aff" stroke-width="0.6"/>
<line x1="56.2" y1="180.93" x2="60.6" y2="180.93" stroke="#0a0aff" stroke-width="0.6"/>
<line x1="56.2" y1="163.2" x2="60.6" y2="163.2" stroke="#0a0aff" stroke-width="0.6"/>
<line x1="53.75" y1="171.89" x2="63.05" y2="171.89" stroke="#555" stroke-width="0.7"/>
<circle cx="58.4" cy="163.55" r="1.6" fill="#0a0aff"/>
<circle cx="58.4" cy="168.41" r="1.6" fill="#0a0aff"/>
<circle cx="58.4" cy="172.59" r="1.6" fill="#0a0aff"/>
<circle cx="58.4" cy="183.7" r="1.6" fill="#0a0aff"/>
<line x1="82.5" y1="206.64" x2="82.5" y2="167.72" stroke="#ff2b2b" stroke-width="0.6"/>
<line x1="80.3" y1="206.64" x2="84.7" y2="206.64" stroke="#ff2b2b" stroke-width="0.6"/>
<line x1="80.3" y1="167.72" x2="84.7" y2="167.72" stroke="#ff2b2b" stroke-width="0.6"/>
<line x1="77.85" y1="187.18" x2="87.15" y2="187.18" stroke="#555" stroke-width="0.7"/>
<circle cx="79.1" cy="175.37" r="1.6" fill="#ff2b2b"/>
<circle cx="85.7" cy="176.75" r="1.6" fill="#ff2b2b"/>
<circle cx="82.5" cy="209.42" r="1.6" fill="#ff2b2b"/>
<line x1="96.9" y1="162.16" x2="96.9" y2="153.82" stroke="#5555ff" stroke-width="0.6"/>
<line x1="94.7" y1="162.16" x2="99.1" y2="162.16" stroke="#5555ff" stroke-width="0.6"/>
<line x1="94.7" y1="153.82" x2="99.1" y2="153.82" stroke="#5555ff" stroke-width="0.6"/>
<line x1="92.25" y1="157.99" x2="101.55" y2="157.99" stroke="#333" stroke-width="0.7"/>
<circle cx="93.7" cy="153.82" r="1.6" fill="#0a0aff"/>
<circle cx="100.1" cy="153.82" r="1.6" fill="#0a0aff"/>
<circle cx="100.1" cy="161.47" r="1.6" fill="#0a0aff"/>
<circle cx="93.7" cy="164.25" r="1.6" fill="#0a0aff"/>
<line x1="121" y1="162.16" x2="121" y2="150.34" stroke="#ff9999" stroke-width="0.6"/>
<line x1="118.8" y1="162.16" x2="123.2" y2="162.16" stroke="#ff9999" stroke-width="0.6"/>
<line x1="118.8" y1="150.34" x2="123.2" y2="150.34" stroke="#ff9999" stroke-width="0.6"/>
<circle cx="121" cy="150.34" r="1.6" fill="#ff2b2b"/>
<circle cx="121" cy="157.3" r="1.6" fill="#ff2b2b"/>
<circle cx="121" cy="161.47" r="1.6" fill="#ff2b2b"/>
<line x1="116.35" y1="156.6" x2="125.65" y2="156.6" stroke="#333" stroke-width="0.8"/>
<line x1="135.5" y1="162.85" x2="135.5" y2="153.12" stroke="#0a0aff" stroke-width="0.6"/>
<line x1="133.3" y1="162.85" x2="137.7" y2="162.85" stroke="#0a0aff" stroke-width="0.6"/>
<line x1="133.3" y1="153.12" x2="137.7" y2="153.12" stroke="#0a0aff" stroke-width="0.6"/>
<circle cx="132.2" cy="153.82" r="1.6" fill="#0a0aff"/>
<circle cx="138.7" cy="153.12" r="1.6" fill="#0a0aff"/>
<circle cx="135.5" cy="158.69" r="1.6" fill="#0a0aff"/>
<circle cx="135.5" cy="164.25" r="1.6" fill="#0a0aff"/>
<line x1="130.85" y1="157.99" x2="140.15" y2="157.99" stroke="#333" stroke-width="0.8"/>
<line x1="39.4" y1="154.2" x2="58.7" y2="154.2" stroke="#555" stroke-width="0.7"/>
<text transform="translate(50.1 151.8) scale(1 1.13)" font-size="5.4" text-anchor="middle" fill="#111" stroke="#111" stroke-width="0.07" font-weight="normal" dominant-baseline="central">0.002</text>
<line x1="78.8" y1="146.5" x2="97.7" y2="146.5" stroke="#555" stroke-width="0.7"/>
<text transform="translate(89.5 142.7) scale(1 1.13)" font-size="5.4" text-anchor="middle" fill="#111" stroke="#111" stroke-width="0.07" font-weight="normal" dominant-baseline="central">0.003</text>
<line x1="117.8" y1="142.5" x2="137.1" y2="142.5" stroke="#555" stroke-width="0.7"/>
<text transform="translate(127.6 139.7) scale(1 1.13)" font-size="5.4" text-anchor="middle" fill="#111" stroke="#111" stroke-width="0.07" font-weight="normal" dominant-baseline="central">ns</text>
<circle cx="154.8" cy="137.7" r="1.85" fill="#ff2b2b"/>
<text transform="translate(163.6 138.2) scale(1 1.13)" font-size="6.6" text-anchor="start" fill="#111" stroke="#111" stroke-width="0.07" font-weight="normal" dominant-baseline="central">WT</text>
<circle cx="154.8" cy="146.7" r="1.85" fill="#0a0aff"/>
<text transform="translate(163.6 147.2) scale(1 1.13)" font-size="6.6" text-anchor="start" fill="#111" stroke="#111" stroke-width="0.07" font-weight="normal" dominant-baseline="central">SA</text>
<line x1="196.2" y1="146.7" x2="196.2" y2="222.1" stroke="#555" stroke-width="0.9"/>
<line x1="194.3" y1="222.1" x2="196.2" y2="222.1" stroke="#555" stroke-width="0.8"/>
<text transform="translate(193.3 222.6) scale(1 1.13)" font-size="5.9" text-anchor="end" fill="#111" stroke="#111" stroke-width="0.07" font-weight="normal" dominant-baseline="central">0</text>
<line x1="194.3" y1="196.95" x2="196.2" y2="196.95" stroke="#555" stroke-width="0.8"/>
<text transform="translate(193.3 197.45) scale(1 1.13)" font-size="5.9" text-anchor="end" fill="#111" stroke="#111" stroke-width="0.07" font-weight="normal" dominant-baseline="central">50</text>
<line x1="194.3" y1="171.8" x2="196.2" y2="171.8" stroke="#555" stroke-width="0.8"/>
<text transform="translate(193.3 172.3) scale(1 1.13)" font-size="5.9" text-anchor="end" fill="#111" stroke="#111" stroke-width="0.07" font-weight="normal" dominant-baseline="central">100</text>
<line x1="194.3" y1="146.65" x2="196.2" y2="146.65" stroke="#555" stroke-width="0.8"/>
<text transform="translate(193.3 147.15) scale(1 1.13)" font-size="5.9" text-anchor="end" fill="#111" stroke="#111" stroke-width="0.07" font-weight="normal" dominant-baseline="central">150</text>
<line x1="196.2" y1="222.1" x2="310.6" y2="222.1" stroke="#555" stroke-width="0.9"/>
<line x1="213.4" y1="222.1" x2="213.4" y2="223.9" stroke="#555" stroke-width="0.7"/>
<text transform="translate(213.4 229.5) scale(1 1.13)" font-size="5.7" text-anchor="middle" fill="#111" stroke="#111" stroke-width="0.07" font-weight="normal" dominant-baseline="central">1:1</text>
<line x1="253.6" y1="222.1" x2="253.6" y2="223.9" stroke="#555" stroke-width="0.7"/>
<text transform="translate(253.6 229.5) scale(1 1.13)" font-size="5.7" text-anchor="middle" fill="#111" stroke="#111" stroke-width="0.07" font-weight="normal" dominant-baseline="central">1:2</text>
<line x1="293.3" y1="222.1" x2="293.3" y2="223.9" stroke="#555" stroke-width="0.7"/>
<text transform="translate(293.3 229.5) scale(1 1.13)" font-size="5.7" text-anchor="middle" fill="#111" stroke="#111" stroke-width="0.07" font-weight="normal" dominant-baseline="central">1:4</text>
<text transform="translate(253.5 239.1) scale(1 1.13)" font-size="6.2" text-anchor="middle" fill="#111" stroke="#111" stroke-width="0.07" font-weight="normal" dominant-baseline="central">PMN-MDSC:splenocytes</text>
<text transform="translate(177.6 183.4) rotate(-90)" font-size="6.4" text-anchor="middle" fill="#111" stroke="#111" stroke-width="0.07" font-weight="normal" dominant-baseline="central">% proliferation</text>
<text transform="translate(253.9 135.7) scale(1 1.13)" font-size="6.1" text-anchor="middle" fill="#111" stroke="#111" stroke-width="0.07" font-weight="normal" dominant-baseline="central">Tumor</text>
<line x1="206.5" y1="219.33" x2="206.5" y2="183.37" stroke="#ff2b2b" stroke-width="0.6"/>
<line x1="204.3" y1="219.33" x2="208.7" y2="219.33" stroke="#ff2b2b" stroke-width="0.6"/>
<line x1="204.3" y1="183.37" x2="208.7" y2="183.37" stroke="#ff2b2b" stroke-width="0.6"/>
<line x1="201.85" y1="201.48" x2="211.15" y2="201.48" stroke="#555" stroke-width="0.7"/>
<circle cx="206.5" cy="180.35" r="1.6" fill="#ff2b2b"/>
<circle cx="206.5" cy="209.02" r="1.6" fill="#ff2b2b"/>
<circle cx="206.5" cy="213.55" r="1.6" fill="#ff2b2b"/>
<line x1="221.4" y1="187.9" x2="221.4" y2="149.67" stroke="#0a0aff" stroke-width="0.6"/>
<line x1="219.2" y1="187.9" x2="223.6" y2="187.9" stroke="#0a0aff" stroke-width="0.6"/>
<line x1="219.2" y1="149.67" x2="223.6" y2="149.67" stroke="#0a0aff" stroke-width="0.6"/>
<line x1="216.75" y1="169.28" x2="226.05" y2="169.28" stroke="#444" stroke-width="0.7"/>
<circle cx="221.4" cy="149.67" r="1.6" fill="#0a0aff"/>
<circle cx="221.4" cy="170.79" r="1.6" fill="#0a0aff"/>
<circle cx="221.4" cy="187.9" r="1.6" fill="#0a0aff"/>
<line x1="246" y1="218.08" x2="246" y2="182.36" stroke="#ff6a6a" stroke-width="0.6"/>
<line x1="243.8" y1="218.08" x2="248.2" y2="218.08" stroke="#ff6a6a" stroke-width="0.6"/>
<line x1="243.8" y1="182.36" x2="248.2" y2="182.36" stroke="#ff6a6a" stroke-width="0.6"/>
<line x1="241.35" y1="200.17" x2="250.65" y2="200.17" stroke="#444" stroke-width="0.7"/>
<circle cx="246" cy="179.85" r="1.6" fill="#ff2b2b"/>
<circle cx="246" cy="209.02" r="1.6" fill="#ff2b2b"/>
<circle cx="246" cy="212.04" r="1.6" fill="#ff2b2b"/>
<line x1="261.2" y1="203.49" x2="261.2" y2="175.32" stroke="#7777ff" stroke-width="0.6"/>
<line x1="259" y1="203.49" x2="263.4" y2="203.49" stroke="#7777ff" stroke-width="0.6"/>
<line x1="259" y1="175.32" x2="263.4" y2="175.32" stroke="#7777ff" stroke-width="0.6"/>
<line x1="256.55" y1="189.41" x2="265.85" y2="189.41" stroke="#444" stroke-width="0.7"/>
<circle cx="261.2" cy="173.81" r="1.6" fill="#0a0aff"/>
<circle cx="257.3" cy="198.46" r="1.6" fill="#0a0aff"/>
<circle cx="264.4" cy="195.94" r="1.6" fill="#0a0aff"/>
<line x1="285.4" y1="198.46" x2="285.4" y2="153.19" stroke="#ff2b2b" stroke-width="0.6"/>
<line x1="283.2" y1="198.46" x2="287.6" y2="198.46" stroke="#ff2b2b" stroke-width="0.6"/>
<line x1="283.2" y1="153.19" x2="287.6" y2="153.19" stroke="#ff2b2b" stroke-width="0.6"/>
<line x1="280.75" y1="176.33" x2="290.05" y2="176.33" stroke="#555" stroke-width="0.7"/>
<circle cx="285.4" cy="153.19" r="1.6" fill="#ff2b2b"/>
<circle cx="285.4" cy="181.36" r="1.6" fill="#ff2b2b"/>
<circle cx="285.4" cy="195.94" r="1.6" fill="#ff2b2b"/>
<line x1="300.5" y1="185.88" x2="300.5" y2="154.19" stroke="#0a0aff" stroke-width="0.6"/>
<line x1="298.3" y1="185.88" x2="302.7" y2="185.88" stroke="#0a0aff" stroke-width="0.6"/>
<line x1="298.3" y1="154.19" x2="302.7" y2="154.19" stroke="#0a0aff" stroke-width="0.6"/>
<line x1="295.85" y1="170.79" x2="305.15" y2="170.79" stroke="#555" stroke-width="0.7"/>
<circle cx="300.5" cy="154.19" r="1.6" fill="#0a0aff"/>
<circle cx="300.5" cy="172.81" r="1.6" fill="#0a0aff"/>
<circle cx="300.5" cy="184.88" r="1.6" fill="#0a0aff"/>
<line x1="203.8" y1="143.4" x2="222.7" y2="143.4" stroke="#555" stroke-width="0.7"/>
<text transform="translate(213.4 141.1) scale(1 1.13)" font-size="5.6" text-anchor="middle" fill="#111" stroke="#111" stroke-width="0.07" font-weight="normal" dominant-baseline="central">0.05</text>
<line x1="244.3" y1="167.2" x2="262.8" y2="167.2" stroke="#555" stroke-width="0.7"/>
<text transform="translate(254.9 165.6) scale(1 1.13)" font-size="5.6" text-anchor="middle" fill="#111" stroke="#111" stroke-width="0.07" font-weight="normal" dominant-baseline="central">ns</text>
<line x1="283" y1="148.3" x2="302.1" y2="148.3" stroke="#555" stroke-width="0.7"/>
<text transform="translate(293 145.3) scale(1 1.13)" font-size="5.6" text-anchor="middle" fill="#111" stroke="#111" stroke-width="0.07" font-weight="normal" dominant-baseline="central">ns</text>
<circle cx="320.8" cy="151.8" r="1.85" fill="#ff2b2b"/>
<text transform="translate(329.5 152.3) scale(1 1.13)" font-size="6.6" text-anchor="start" fill="#111" stroke="#111" stroke-width="0.07" font-weight="normal" dominant-baseline="central">WT</text>
<circle cx="320.8" cy="161.9" r="1.85" fill="#0a0aff"/>
<text transform="translate(329.5 162.4) scale(1 1.13)" font-size="6.6" text-anchor="start" fill="#111" stroke="#111" stroke-width="0.07" font-weight="normal" dominant-baseline="central">SA</text>
<text transform="translate(338.8 129) scale(1 1.13)" font-size="8.7" text-anchor="start" fill="#000" stroke="#000" stroke-width="0.07" font-weight="bold" dominant-baseline="central">e</text>
<line x1="380.2" y1="143.3" x2="380.2" y2="221.2" stroke="#555" stroke-width="0.9"/>
<line x1="377.6" y1="221.3" x2="380.2" y2="221.3" stroke="#555" stroke-width="0.8"/>
<text transform="translate(376.6 221.8) scale(1 1.13)" font-size="6.2" text-anchor="end" fill="#111" stroke="#111" stroke-width="0.07" font-weight="normal" dominant-baseline="central">0</text>
<line x1="377.6" y1="208.3" x2="380.2" y2="208.3" stroke="#555" stroke-width="0.8"/>
<text transform="translate(376.6 208.8) scale(1 1.13)" font-size="6.2" text-anchor="end" fill="#111" stroke="#111" stroke-width="0.07" font-weight="normal" dominant-baseline="central">20</text>
<line x1="377.6" y1="195.3" x2="380.2" y2="195.3" stroke="#555" stroke-width="0.8"/>
<text transform="translate(376.6 195.8) scale(1 1.13)" font-size="6.2" text-anchor="end" fill="#111" stroke="#111" stroke-width="0.07" font-weight="normal" dominant-baseline="central">40</text>
<line x1="377.6" y1="182.3" x2="380.2" y2="182.3" stroke="#555" stroke-width="0.8"/>
<text transform="translate(376.6 182.8) scale(1 1.13)" font-size="6.2" text-anchor="end" fill="#111" stroke="#111" stroke-width="0.07" font-weight="normal" dominant-baseline="central">60</text>
<line x1="377.6" y1="169.3" x2="380.2" y2="169.3" stroke="#555" stroke-width="0.8"/>
<text transform="translate(376.6 169.8) scale(1 1.13)" font-size="6.2" text-anchor="end" fill="#111" stroke="#111" stroke-width="0.07" font-weight="normal" dominant-baseline="central">80</text>
<line x1="377.6" y1="156.3" x2="380.2" y2="156.3" stroke="#555" stroke-width="0.8"/>
<text transform="translate(376.6 156.8) scale(1 1.13)" font-size="6.2" text-anchor="end" fill="#111" stroke="#111" stroke-width="0.07" font-weight="normal" dominant-baseline="central">100</text>
<line x1="377.6" y1="143.3" x2="380.2" y2="143.3" stroke="#555" stroke-width="0.8"/>
<text transform="translate(376.6 143.8) scale(1 1.13)" font-size="6.2" text-anchor="end" fill="#111" stroke="#111" stroke-width="0.07" font-weight="normal" dominant-baseline="central">120</text>
<line x1="380.2" y1="221.2" x2="458.9" y2="221.2" stroke="#555" stroke-width="0.9"/>
<line x1="392.2" y1="221.2" x2="392.2" y2="223.8" stroke="#555" stroke-width="0.7"/>
<text transform="translate(392.2 229.7) scale(1 1.13)" font-size="5.7" text-anchor="middle" fill="#111" stroke="#111" stroke-width="0.07" font-weight="normal" dominant-baseline="central">1:4</text>
<line x1="419.6" y1="221.2" x2="419.6" y2="223.8" stroke="#555" stroke-width="0.7"/>
<text transform="translate(419.6 229.7) scale(1 1.13)" font-size="5.7" text-anchor="middle" fill="#111" stroke="#111" stroke-width="0.07" font-weight="normal" dominant-baseline="central">1:8</text>
<line x1="446.5" y1="221.2" x2="446.5" y2="223.8" stroke="#555" stroke-width="0.7"/>
<text transform="translate(446.5 229.7) scale(1 1.13)" font-size="5.7" text-anchor="middle" fill="#111" stroke="#111" stroke-width="0.07" font-weight="normal" dominant-baseline="central">1:16</text>
<text transform="translate(419.4 239.4) scale(1 1.13)" font-size="6.2" text-anchor="middle" fill="#111" stroke="#111" stroke-width="0.07" font-weight="normal" dominant-baseline="central">M-MDSC:splenocytes</text>
<text transform="translate(359.3 181.5) rotate(-90)" font-size="6.4" text-anchor="middle" fill="#111" stroke="#111" stroke-width="0.07" font-weight="bold" dominant-baseline="central">%of Proliferation</text>
<circle cx="385.3" cy="219.3" r="1.6" fill="#ff2b2b"/>
<circle cx="387.2" cy="216.8" r="1.6" fill="#ff2b2b"/>
<circle cx="388.8" cy="218.1" r="1.6" fill="#ff2b2b"/>
<circle cx="397" cy="149.5" r="1.6" fill="#0a0aff"/>
<circle cx="395.5" cy="153.9" r="1.6" fill="#0a0aff"/>
<circle cx="399.2" cy="152.7" r="1.6" fill="#0a0aff"/>
<line x1="414.3" y1="218.05" x2="414.3" y2="193.03" stroke="#ff2b2b" stroke-width="0.6"/>
<line x1="412.1" y1="218.05" x2="416.5" y2="218.05" stroke="#ff2b2b" stroke-width="0.6"/>
<line x1="412.1" y1="193.03" x2="416.5" y2="193.03" stroke="#ff2b2b" stroke-width="0.6"/>
<line x1="409.65" y1="205.05" x2="418.95" y2="205.05" stroke="#444" stroke-width="0.7"/>
<circle cx="414.3" cy="193.03" r="1.6" fill="#ff2b2b"/>
<circle cx="414.3" cy="205.05" r="1.6" fill="#ff2b2b"/>
<circle cx="414.3" cy="218.05" r="1.6" fill="#ff2b2b"/>
<circle cx="422.5" cy="149.5" r="1.6" fill="#0a0aff"/>
<circle cx="424.5" cy="147.5" r="1.6" fill="#0a0aff"/>
<circle cx="426.3" cy="148.3" r="1.6" fill="#0a0aff"/>
<line x1="441.7" y1="199.4" x2="441.7" y2="171.9" stroke="#ff7777" stroke-width="0.6"/>
<line x1="439.5" y1="199.4" x2="443.9" y2="199.4" stroke="#ff7777" stroke-width="0.6"/>
<line x1="439.5" y1="171.9" x2="443.9" y2="171.9" stroke="#ff7777" stroke-width="0.6"/>
<line x1="437.05" y1="186.2" x2="446.35" y2="186.2" stroke="#444" stroke-width="0.7"/>
<circle cx="441.7" cy="171.9" r="1.6" fill="#ff2b2b"/>
<circle cx="441.7" cy="187.83" r="1.6" fill="#ff2b2b"/>
<circle cx="441.7" cy="199.4" r="1.6" fill="#ff2b2b"/>
<line x1="451.8" y1="159.55" x2="451.8" y2="147.2" stroke="#aaaaff" stroke-width="0.6"/>
<line x1="449.6" y1="159.55" x2="454" y2="159.55" stroke="#aaaaff" stroke-width="0.6"/>
<line x1="449.6" y1="147.2" x2="454" y2="147.2" stroke="#aaaaff" stroke-width="0.6"/>
<line x1="448.3" y1="153.7" x2="455.3" y2="153.7" stroke="#444" stroke-width="0.7"/>
<circle cx="451.8" cy="147.2" r="1.6" fill="#0a0aff"/>
<circle cx="451.8" cy="155" r="1.6" fill="#0a0aff"/>
<circle cx="451.8" cy="159.55" r="1.6" fill="#0a0aff"/>
<line x1="387.1" y1="143.4" x2="397.6" y2="143.4" stroke="#555" stroke-width="0.7"/>
<text transform="translate(393.9 139.8) scale(1 1.13)" font-size="5.4" text-anchor="middle" fill="#111" stroke="#111" stroke-width="0.07" font-weight="normal" dominant-baseline="central">&lt;0.0001</text>
<line x1="411.5" y1="140.9" x2="422.3" y2="140.9" stroke="#999" stroke-width="0.7"/>
<text transform="translate(418.3 137.5) scale(1 1.13)" font-size="5.4" text-anchor="middle" fill="#111" stroke="#111" stroke-width="0.07" font-weight="normal" dominant-baseline="central">0.001</text>
<line x1="440" y1="141.4" x2="451.8" y2="141.4" stroke="#555" stroke-width="0.7"/>
<text transform="translate(446 139.4) scale(1 1.13)" font-size="5.4" text-anchor="middle" fill="#111" stroke="#111" stroke-width="0.07" font-weight="normal" dominant-baseline="central">0.02</text>
<circle cx="471.4" cy="151.5" r="1.85" fill="#ff2b2b"/>
<text transform="translate(480.3 152) scale(1 1.13)" font-size="6.6" text-anchor="start" fill="#111" stroke="#111" stroke-width="0.07" font-weight="normal" dominant-baseline="central">WT</text>
<circle cx="471.4" cy="161.9" r="1.85" fill="#0a0aff"/>
<text transform="translate(480.3 162.4) scale(1 1.13)" font-size="6.6" text-anchor="start" fill="#111" stroke="#111" stroke-width="0.07" font-weight="normal" dominant-baseline="central">SA</text>
<text transform="translate(505.3 128.5) scale(1 1.13)" font-size="8.7" text-anchor="start" fill="#000" stroke="#000" stroke-width="0.07" font-weight="bold" dominant-baseline="central">f</text>
<line x1="547.4" y1="132.3" x2="547.4" y2="218" stroke="#7a7a7a" stroke-width="0.8"/>
<line x1="545.5" y1="218" x2="547.4" y2="218" stroke="#7a7a7a" stroke-width="0.8"/>
<text transform="translate(544.5 218.5) scale(1 1.13)" font-size="6.9" text-anchor="end" fill="#111" stroke="#111" stroke-width="0.07" font-weight="normal" dominant-baseline="central">0</text>
<line x1="545.5" y1="203.71" x2="547.4" y2="203.71" stroke="#7a7a7a" stroke-width="0.8"/>
<text transform="translate(544.5 204.21) scale(1 1.13)" font-size="6.9" text-anchor="end" fill="#111" stroke="#111" stroke-width="0.07" font-weight="normal" dominant-baseline="central">100</text>
<line x1="545.5" y1="189.42" x2="547.4" y2="189.42" stroke="#7a7a7a" stroke-width="0.8"/>
<text transform="translate(544.5 189.92) scale(1 1.13)" font-size="6.9" text-anchor="end" fill="#111" stroke="#111" stroke-width="0.07" font-weight="normal" dominant-baseline="central">200</text>
<line x1="545.5" y1="175.13" x2="547.4" y2="175.13" stroke="#7a7a7a" stroke-width="0.8"/>
<text transform="translate(544.5 175.63) scale(1 1.13)" font-size="6.9" text-anchor="end" fill="#111" stroke="#111" stroke-width="0.07" font-weight="normal" dominant-baseline="central">300</text>
<line x1="545.5" y1="160.84" x2="547.4" y2="160.84" stroke="#7a7a7a" stroke-width="0.8"/>
<text transform="translate(544.5 161.34) scale(1 1.13)" font-size="6.9" text-anchor="end" fill="#111" stroke="#111" stroke-width="0.07" font-weight="normal" dominant-baseline="central">400</text>
<line x1="545.5" y1="146.55" x2="547.4" y2="146.55" stroke="#7a7a7a" stroke-width="0.8"/>
<text transform="translate(544.5 147.05) scale(1 1.13)" font-size="6.9" text-anchor="end" fill="#111" stroke="#111" stroke-width="0.07" font-weight="normal" dominant-baseline="central">500</text>
<line x1="545.5" y1="132.26" x2="547.4" y2="132.26" stroke="#7a7a7a" stroke-width="0.8"/>
<text transform="translate(544.5 132.76) scale(1 1.13)" font-size="6.9" text-anchor="end" fill="#111" stroke="#111" stroke-width="0.07" font-weight="normal" dominant-baseline="central">600</text>
<line x1="547.4" y1="218" x2="676.3" y2="218" stroke="#7a7a7a" stroke-width="0.8"/>
<line x1="547.4" y1="218" x2="547.4" y2="219.8" stroke="#7a7a7a" stroke-width="0.7"/>
<line x1="579.65" y1="218" x2="579.65" y2="219.8" stroke="#7a7a7a" stroke-width="0.7"/>
<line x1="611.9" y1="218" x2="611.9" y2="219.8" stroke="#7a7a7a" stroke-width="0.7"/>
<line x1="644.15" y1="218" x2="644.15" y2="219.8" stroke="#7a7a7a" stroke-width="0.7"/>
<line x1="676.4" y1="218" x2="676.4" y2="219.8" stroke="#7a7a7a" stroke-width="0.7"/>
<text transform="translate(547.4 226.8) scale(1 1.13)" font-size="6.9" text-anchor="middle" fill="#111" stroke="#111" stroke-width="0.07" font-weight="normal" dominant-baseline="central">0</text>
<text transform="translate(579.65 226.8) scale(1 1.13)" font-size="6.9" text-anchor="middle" fill="#111" stroke="#111" stroke-width="0.07" font-weight="normal" dominant-baseline="central">5</text>
<text transform="translate(611.9 226.8) scale(1 1.13)" font-size="6.9" text-anchor="middle" fill="#111" stroke="#111" stroke-width="0.07" font-weight="normal" dominant-baseline="central">10</text>
<text transform="translate(644.15 226.8) scale(1 1.13)" font-size="6.9" text-anchor="middle" fill="#111" stroke="#111" stroke-width="0.07" font-weight="normal" dominant-baseline="central">15</text>
<text transform="translate(676.4 226.8) scale(1 1.13)" font-size="6.9" text-anchor="middle" fill="#111" stroke="#111" stroke-width="0.07" font-weight="normal" dominant-baseline="central">20</text>
<text transform="translate(612.45 235.7) scale(1 1.13)" font-size="7" text-anchor="middle" fill="#111" stroke="#111" stroke-width="0.07" font-weight="normal" dominant-baseline="central">Days after tumor injection</text>
<text transform="translate(526.2 175.2) rotate(-90)" font-size="6.9" text-anchor="middle" fill="#111" stroke="#111" stroke-width="0.07" font-weight="normal" dominant-baseline="central">Tumor Growth (mm<tspan dy="-3.5" font-size="4.7">2</tspan><tspan dy="3.5">)</tspan></text>
<line x1="618.35" y1="209.14" x2="618.35" y2="215.43" stroke="#a00010" stroke-width="0.5"/>
<line x1="616.55" y1="209.14" x2="620.15" y2="209.14" stroke="#a00010" stroke-width="0.5"/>
<line x1="616.55" y1="215.43" x2="620.15" y2="215.43" stroke="#a00010" stroke-width="0.5"/>
<line x1="637.7" y1="201.57" x2="637.7" y2="211.57" stroke="#a00010" stroke-width="0.5"/>
<line x1="635.9" y1="201.57" x2="639.5" y2="201.57" stroke="#a00010" stroke-width="0.5"/>
<line x1="635.9" y1="211.57" x2="639.5" y2="211.57" stroke="#a00010" stroke-width="0.5"/>
<line x1="657.05" y1="198.85" x2="657.05" y2="206" stroke="#a00010" stroke-width="0.5"/>
<line x1="655.25" y1="198.85" x2="658.85" y2="198.85" stroke="#a00010" stroke-width="0.5"/>
<line x1="655.25" y1="206" x2="658.85" y2="206" stroke="#a00010" stroke-width="0.5"/>
<line x1="618.35" y1="193.99" x2="618.35" y2="196.28" stroke="#000000" stroke-width="0.5"/>
<line x1="616.55" y1="193.99" x2="620.15" y2="193.99" stroke="#000000" stroke-width="0.5"/>
<line x1="616.55" y1="196.28" x2="620.15" y2="196.28" stroke="#000000" stroke-width="0.5"/>
<line x1="637.7" y1="181.56" x2="637.7" y2="187.28" stroke="#000000" stroke-width="0.5"/>
<line x1="635.9" y1="181.56" x2="639.5" y2="181.56" stroke="#000000" stroke-width="0.5"/>
<line x1="635.9" y1="187.28" x2="639.5" y2="187.28" stroke="#000000" stroke-width="0.5"/>
<line x1="657.05" y1="154.41" x2="657.05" y2="162.98" stroke="#000000" stroke-width="0.5"/>
<line x1="655.25" y1="154.41" x2="658.85" y2="154.41" stroke="#000000" stroke-width="0.5"/>
<line x1="655.25" y1="162.98" x2="658.85" y2="162.98" stroke="#000000" stroke-width="0.5"/>
<line x1="618.35" y1="193.14" x2="618.35" y2="195.42" stroke="#1b5e20" stroke-width="0.5"/>
<line x1="616.55" y1="193.14" x2="620.15" y2="193.14" stroke="#1b5e20" stroke-width="0.5"/>
<line x1="616.55" y1="195.42" x2="620.15" y2="195.42" stroke="#1b5e20" stroke-width="0.5"/>
<line x1="637.7" y1="181.85" x2="637.7" y2="188.99" stroke="#1b5e20" stroke-width="0.5"/>
<line x1="635.9" y1="181.85" x2="639.5" y2="181.85" stroke="#1b5e20" stroke-width="0.5"/>
<line x1="635.9" y1="188.99" x2="639.5" y2="188.99" stroke="#1b5e20" stroke-width="0.5"/>
<line x1="657.05" y1="153.98" x2="657.05" y2="162.55" stroke="#1b5e20" stroke-width="0.5"/>
<line x1="655.25" y1="153.98" x2="658.85" y2="153.98" stroke="#1b5e20" stroke-width="0.5"/>
<line x1="655.25" y1="162.55" x2="658.85" y2="162.55" stroke="#1b5e20" stroke-width="0.5"/>
<line x1="618.35" y1="198.71" x2="618.35" y2="204.42" stroke="#1a237e" stroke-width="0.5"/>
<line x1="616.55" y1="198.71" x2="620.15" y2="198.71" stroke="#1a237e" stroke-width="0.5"/>
<line x1="616.55" y1="204.42" x2="620.15" y2="204.42" stroke="#1a237e" stroke-width="0.5"/>
<line x1="637.7" y1="178.42" x2="637.7" y2="191.28" stroke="#1a237e" stroke-width="0.5"/>
<line x1="635.9" y1="178.42" x2="639.5" y2="178.42" stroke="#1a237e" stroke-width="0.5"/>
<line x1="635.9" y1="191.28" x2="639.5" y2="191.28" stroke="#1a237e" stroke-width="0.5"/>
<line x1="657.05" y1="150.84" x2="657.05" y2="165.7" stroke="#1a237e" stroke-width="0.5"/>
<line x1="655.25" y1="150.84" x2="658.85" y2="150.84" stroke="#1a237e" stroke-width="0.5"/>
<line x1="655.25" y1="165.7" x2="658.85" y2="165.7" stroke="#1a237e" stroke-width="0.5"/>
<polyline points="579.65,218 618.35,212.28 637.7,206.57 657.05,202.42" fill="none" stroke="#a00010" stroke-width="0.7"/>
<polyline points="579.65,218 618.35,195.14 637.7,184.42 657.05,158.7" fill="none" stroke="#000000" stroke-width="0.7"/>
<polyline points="579.65,218 618.35,194.28 637.7,185.42 657.05,158.27" fill="none" stroke="#1b5e20" stroke-width="0.7"/>
<polyline points="579.65,218 618.35,201.57 637.7,184.85 657.05,158.27" fill="none" stroke="#1a237e" stroke-width="0.7"/>
<circle cx="579.65" cy="218" r="2" fill="#a00010"/>
<circle cx="618.35" cy="212.28" r="2" fill="#a00010"/>
<circle cx="637.7" cy="206.57" r="2" fill="#a00010"/>
<circle cx="657.05" cy="202.42" r="2" fill="#a00010"/>
<circle cx="579.65" cy="218" r="2" fill="#1a237e"/>
<circle cx="618.35" cy="201.57" r="2" fill="#1a237e"/>
<circle cx="637.7" cy="184.85" r="2" fill="#1a237e"/>
<circle cx="657.05" cy="158.27" r="2" fill="#1a237e"/>
<circle cx="579.65" cy="218" r="2" fill="#1b5e20"/>
<circle cx="618.35" cy="194.28" r="2" fill="#1b5e20"/>
<circle cx="637.7" cy="185.42" r="2" fill="#1b5e20"/>
<circle cx="657.05" cy="158.27" r="2" fill="#1b5e20"/>
<circle cx="579.65" cy="218" r="2" fill="#000000"/>
<circle cx="618.35" cy="195.14" r="2" fill="#000000"/>
<circle cx="637.7" cy="184.42" r="2" fill="#000000"/>
<circle cx="657.05" cy="158.7" r="2" fill="#000000"/>
<line x1="668.3" y1="155.3" x2="668.3" y2="197.8" stroke="#555" stroke-width="0.6"/>
<text transform="translate(669.4 180.8) scale(1 1.13)" font-size="6.1" text-anchor="start" fill="#111" stroke="#111" stroke-width="0.07" font-weight="normal" dominant-baseline="central">0.002</text>
<line x1="553.9" y1="136" x2="562.7" y2="136" stroke="#000" stroke-width="0.7"/>
<circle cx="558.3" cy="136" r="1.85" fill="#000"/>
<text transform="translate(567.5 136.9) scale(1 1.13)" font-size="7.1" text-anchor="start" fill="#111" stroke="#111" stroke-width="0.07" font-weight="normal" dominant-baseline="central">WT Ctrl</text>
<line x1="553.9" y1="146.2" x2="562.7" y2="146.2" stroke="#a00010" stroke-width="0.7"/>
<circle cx="558.3" cy="146.2" r="1.85" fill="#a00010"/>
<text transform="translate(567.5 147.1) scale(1 1.13)" font-size="7.1" text-anchor="start" fill="#111" stroke="#111" stroke-width="0.07" font-weight="normal" dominant-baseline="central">SA Ctrl</text>
<line x1="553.9" y1="156.1" x2="562.7" y2="156.1" stroke="#1a237e" stroke-width="0.7"/>
<circle cx="558.3" cy="156.1" r="1.85" fill="#1a237e"/>
<text transform="translate(567.5 157) scale(1 1.13)" font-size="7.1" text-anchor="start" fill="#111" stroke="#111" stroke-width="0.07" font-weight="normal" dominant-baseline="central">WT + CD8 Ab</text>
<line x1="553.9" y1="165.5" x2="562.7" y2="165.5" stroke="#1b5e20" stroke-width="0.7"/>
<circle cx="558.3" cy="165.5" r="1.85" fill="#1b5e20"/>
<text transform="translate(567.5 166.4) scale(1 1.13)" font-size="7.1" text-anchor="start" fill="#111" stroke="#111" stroke-width="0.07" font-weight="normal" dominant-baseline="central">SA + CD8 Ab</text>
<text transform="translate(2.8 267.7) scale(1 1.13)" font-size="8.7" text-anchor="start" fill="#000" stroke="#000" stroke-width="0.07" font-weight="bold" dominant-baseline="central">g</text>
<line x1="43.1" y1="276.6" x2="43.1" y2="353.2" stroke="#7a7a7a" stroke-width="0.8"/>
<line x1="41.2" y1="353.2" x2="43.1" y2="353.2" stroke="#7a7a7a" stroke-width="0.8"/>
<text transform="translate(40.2 353.7) scale(1 1.13)" font-size="6.1" text-anchor="end" fill="#111" stroke="#111" stroke-width="0.07" font-weight="normal" dominant-baseline="central">0</text>
<line x1="41.2" y1="334.05" x2="43.1" y2="334.05" stroke="#7a7a7a" stroke-width="0.8"/>
<text transform="translate(40.2 334.55) scale(1 1.13)" font-size="6.1" text-anchor="end" fill="#111" stroke="#111" stroke-width="0.07" font-weight="normal" dominant-baseline="central">10</text>
<line x1="41.2" y1="314.9" x2="43.1" y2="314.9" stroke="#7a7a7a" stroke-width="0.8"/>
<text transform="translate(40.2 315.4) scale(1 1.13)" font-size="6.1" text-anchor="end" fill="#111" stroke="#111" stroke-width="0.07" font-weight="normal" dominant-baseline="central">20</text>
<line x1="41.2" y1="295.75" x2="43.1" y2="295.75" stroke="#7a7a7a" stroke-width="0.8"/>
<text transform="translate(40.2 296.25) scale(1 1.13)" font-size="6.1" text-anchor="end" fill="#111" stroke="#111" stroke-width="0.07" font-weight="normal" dominant-baseline="central">30</text>
<line x1="41.2" y1="276.6" x2="43.1" y2="276.6" stroke="#7a7a7a" stroke-width="0.8"/>
<text transform="translate(40.2 277.1) scale(1 1.13)" font-size="6.1" text-anchor="end" fill="#111" stroke="#111" stroke-width="0.07" font-weight="normal" dominant-baseline="central">40</text>
<line x1="43.1" y1="353.2" x2="158" y2="353.2" stroke="#7a7a7a" stroke-width="0.8"/>
<line x1="54.7" y1="353.2" x2="54.7" y2="355" stroke="#7a7a7a" stroke-width="0.7"/>
<line x1="77.5" y1="353.2" x2="77.5" y2="355" stroke="#7a7a7a" stroke-width="0.7"/>
<line x1="100.4" y1="353.2" x2="100.4" y2="355" stroke="#7a7a7a" stroke-width="0.7"/>
<line x1="123.4" y1="353.2" x2="123.4" y2="355" stroke="#7a7a7a" stroke-width="0.7"/>
<line x1="146.4" y1="353.2" x2="146.4" y2="355" stroke="#7a7a7a" stroke-width="0.7"/>
<text transform="translate(54.7 360.1) scale(1 1.13)" font-size="6.4" text-anchor="middle" fill="#111" stroke="#111" stroke-width="0.07" font-weight="normal" dominant-baseline="central">Control</text>
<text transform="translate(77.5 360.1) scale(1 1.13)" font-size="6.4" text-anchor="middle" fill="#111" stroke="#111" stroke-width="0.07" font-weight="normal" dominant-baseline="central">WT</text>
<text transform="translate(100.4 360.1) scale(1 1.13)" font-size="6.4" text-anchor="middle" fill="#111" stroke="#111" stroke-width="0.07" font-weight="normal" dominant-baseline="central">SA</text>
<text transform="translate(123.4 360.1) scale(1 1.13)" font-size="6.4" text-anchor="middle" fill="#111" stroke="#111" stroke-width="0.07" font-weight="normal" dominant-baseline="central">WT</text>
<text transform="translate(146.4 360.1) scale(1 1.13)" font-size="6.4" text-anchor="middle" fill="#111" stroke="#111" stroke-width="0.07" font-weight="normal" dominant-baseline="central">SA</text>
<line x1="52" y1="363.3" x2="107.3" y2="363.3" stroke="#555" stroke-width="0.7"/>
<text transform="translate(78.8 370.4) scale(1 1.13)" font-size="6.3" text-anchor="middle" fill="#111" stroke="#111" stroke-width="0.07" font-weight="normal" dominant-baseline="central">Spleen</text>
<line x1="117.8" y1="364.1" x2="154.3" y2="364.1" stroke="#aaa" stroke-width="0.9"/>
<text transform="translate(132.3 370.4) scale(1 1.13)" font-size="6.3" text-anchor="middle" fill="#111" stroke="#111" stroke-width="0.07" font-weight="normal" dominant-baseline="central">Tumor</text>
<text transform="translate(25 314) rotate(-90)" font-size="6.2" text-anchor="middle" fill="#111" stroke="#111" stroke-width="0.07" font-weight="normal" dominant-baseline="central">PMN (%)</text>
<line x1="54.7" y1="348.4" x2="54.7" y2="343.2" stroke="#888" stroke-width="0.6"/>
<line x1="51.2" y1="348.4" x2="58.2" y2="348.4" stroke="#888" stroke-width="0.6"/>
<line x1="51.2" y1="343.2" x2="58.2" y2="343.2" stroke="#888" stroke-width="0.6"/>
<line x1="47.3" y1="345.6" x2="62.1" y2="345.6" stroke="#333" stroke-width="0.7"/>
<circle cx="54.7" cy="344.4" r="1.65" fill="#000"/>
<circle cx="54.7" cy="347.2" r="1.65" fill="#000"/>
<line x1="77.5" y1="311.1" x2="77.5" y2="291" stroke="#333" stroke-width="0.6"/>
<line x1="74" y1="311.1" x2="81" y2="311.1" stroke="#333" stroke-width="0.6"/>
<line x1="74" y1="291" x2="81" y2="291" stroke="#333" stroke-width="0.6"/>
<line x1="70" y1="301.3" x2="85" y2="301.3" stroke="#333" stroke-width="0.7"/>
<circle cx="77.5" cy="291.4" r="1.65" fill="#000"/>
<circle cx="77.5" cy="295" r="1.65" fill="#000"/>
<circle cx="77.5" cy="302.6" r="1.65" fill="#000"/>
<circle cx="77.5" cy="314.7" r="1.65" fill="#000"/>
<line x1="100.4" y1="330.5" x2="100.4" y2="317.5" stroke="#333" stroke-width="0.6"/>
<line x1="96.9" y1="330.5" x2="103.9" y2="330.5" stroke="#333" stroke-width="0.6"/>
<line x1="96.9" y1="317.5" x2="103.9" y2="317.5" stroke="#333" stroke-width="0.6"/>
<line x1="92.9" y1="324.3" x2="107.9" y2="324.3" stroke="#333" stroke-width="0.7"/>
<circle cx="100.4" cy="316.5" r="1.65" fill="#000"/>
<circle cx="97.4" cy="329.4" r="1.65" fill="#000"/>
<circle cx="103.8" cy="326.7" r="1.65" fill="#000"/>
<line x1="123.4" y1="342.7" x2="123.4" y2="311.1" stroke="#333" stroke-width="0.6"/>
<line x1="119.9" y1="342.7" x2="126.9" y2="342.7" stroke="#333" stroke-width="0.6"/>
<line x1="119.9" y1="311.1" x2="126.9" y2="311.1" stroke="#333" stroke-width="0.6"/>
<line x1="115.9" y1="327.5" x2="130.9" y2="327.5" stroke="#333" stroke-width="0.7"/>
<circle cx="123.4" cy="309" r="1.65" fill="#000"/>
<circle cx="120.2" cy="336.3" r="1.65" fill="#000"/>
<circle cx="126.6" cy="336.3" r="1.65" fill="#000"/>
<line x1="146.4" y1="350" x2="146.4" y2="343.5" stroke="#aaa" stroke-width="0.6"/>
<line x1="142.9" y1="350" x2="149.9" y2="350" stroke="#aaa" stroke-width="0.6"/>
<line x1="142.9" y1="343.5" x2="149.9" y2="343.5" stroke="#aaa" stroke-width="0.6"/>
<line x1="138.9" y1="347.1" x2="153.9" y2="347.1" stroke="#333" stroke-width="0.7"/>
<circle cx="146.4" cy="343.2" r="1.65" fill="#000"/>
<circle cx="143.5" cy="349.2" r="1.65" fill="#000"/>
<circle cx="149.5" cy="348" r="1.65" fill="#000"/>
<line x1="80.4" y1="284.4" x2="102.8" y2="284.4" stroke="#555" stroke-width="0.7"/>
<text transform="translate(94.1 279.7) scale(1 1.13)" font-size="5.8" text-anchor="middle" fill="#111" stroke="#111" stroke-width="0.07" font-weight="normal" dominant-baseline="central">0.03</text>
<line x1="121.8" y1="286.2" x2="144.8" y2="286.2" stroke="#555" stroke-width="0.7"/>
<text transform="translate(133.5 285.3) scale(1 1.13)" font-size="5.4" text-anchor="middle" fill="#111" stroke="#111" stroke-width="0.07" font-weight="normal" dominant-baseline="central">ns</text>
<text transform="translate(176.8 267.5) scale(1 1.13)" font-size="8.7" text-anchor="start" fill="#000" stroke="#000" stroke-width="0.07" font-weight="bold" dominant-baseline="central">h</text>
<line x1="218.2" y1="274.1" x2="218.2" y2="352.1" stroke="#7a7a7a" stroke-width="0.8"/>
<line x1="216.3" y1="352.1" x2="218.2" y2="352.1" stroke="#7a7a7a" stroke-width="0.8"/>
<text transform="translate(215.3 352.6) scale(1 1.13)" font-size="6.5" text-anchor="end" fill="#111" stroke="#111" stroke-width="0.07" font-weight="normal" dominant-baseline="central">0</text>
<line x1="216.3" y1="326.15" x2="218.2" y2="326.15" stroke="#7a7a7a" stroke-width="0.8"/>
<text transform="translate(215.3 326.65) scale(1 1.13)" font-size="6.5" text-anchor="end" fill="#111" stroke="#111" stroke-width="0.07" font-weight="normal" dominant-baseline="central">1×10<tspan dy="-2.2" font-size="4.2">4</tspan></text>
<line x1="216.3" y1="300.2" x2="218.2" y2="300.2" stroke="#7a7a7a" stroke-width="0.8"/>
<text transform="translate(215.3 300.7) scale(1 1.13)" font-size="6.5" text-anchor="end" fill="#111" stroke="#111" stroke-width="0.07" font-weight="normal" dominant-baseline="central">2×10<tspan dy="-2.2" font-size="4.2">4</tspan></text>
<line x1="216.3" y1="274.25" x2="218.2" y2="274.25" stroke="#7a7a7a" stroke-width="0.8"/>
<text transform="translate(215.3 274.75) scale(1 1.13)" font-size="6.5" text-anchor="end" fill="#111" stroke="#111" stroke-width="0.07" font-weight="normal" dominant-baseline="central">3×10<tspan dy="-2.2" font-size="4.2">4</tspan></text>
<line x1="218.2" y1="352.1" x2="336.8" y2="352.1" stroke="#7a7a7a" stroke-width="0.8"/>
<line x1="233.5" y1="352.1" x2="233.5" y2="353.9" stroke="#7a7a7a" stroke-width="0.7"/>
<line x1="262.9" y1="352.1" x2="262.9" y2="353.9" stroke="#7a7a7a" stroke-width="0.7"/>
<line x1="292.5" y1="352.1" x2="292.5" y2="353.9" stroke="#7a7a7a" stroke-width="0.7"/>
<line x1="322.2" y1="352.1" x2="322.2" y2="353.9" stroke="#7a7a7a" stroke-width="0.7"/>
<text transform="translate(233.5 360.1) scale(1 1.13)" font-size="6.4" text-anchor="middle" fill="#111" stroke="#111" stroke-width="0.07" font-weight="normal" dominant-baseline="central">2:1</text>
<text transform="translate(262.9 360.1) scale(1 1.13)" font-size="6.4" text-anchor="middle" fill="#111" stroke="#111" stroke-width="0.07" font-weight="normal" dominant-baseline="central">1:1</text>
<text transform="translate(292.5 360.1) scale(1 1.13)" font-size="6.4" text-anchor="middle" fill="#111" stroke="#111" stroke-width="0.07" font-weight="normal" dominant-baseline="central">1:2</text>
<text transform="translate(278.2 368.7) scale(1 1.13)" font-size="6.45" text-anchor="middle" fill="#111" stroke="#111" stroke-width="0.07" font-weight="normal" dominant-baseline="central">PMN-MDSC:spleocytes</text>
<text transform="translate(191.9 313.2) rotate(-90)" font-size="6.3" text-anchor="middle" fill="#111" stroke="#111" stroke-width="0.07" font-weight="normal" dominant-baseline="central">CPM</text>
<line x1="224.2" y1="340.3" x2="224.2" y2="313.5" stroke="#ff7777" stroke-width="0.6"/>
<line x1="222.4" y1="340.3" x2="226" y2="340.3" stroke="#ff7777" stroke-width="0.6"/>
<line x1="222.4" y1="313.5" x2="226" y2="313.5" stroke="#ff7777" stroke-width="0.6"/>
<circle cx="224.2" cy="313.5" r="1.65" fill="#ff2b2b"/>
<circle cx="224.2" cy="326.3" r="1.65" fill="#ff2b2b"/>
<circle cx="224.2" cy="340.3" r="1.65" fill="#ff2b2b"/>
<line x1="221.95" y1="326.3" x2="226.45" y2="326.3" stroke="#7a2a2a" stroke-width="0.8"/>
<line x1="230.6" y1="308.7" x2="230.6" y2="296.7" stroke="#0a0aff" stroke-width="0.6"/>
<line x1="228.8" y1="308.7" x2="232.4" y2="308.7" stroke="#0a0aff" stroke-width="0.6"/>
<line x1="228.8" y1="296.7" x2="232.4" y2="296.7" stroke="#0a0aff" stroke-width="0.6"/>
<circle cx="230.6" cy="296.7" r="1.65" fill="#0a0aff"/>
<circle cx="230.6" cy="303.6" r="1.65" fill="#0a0aff"/>
<circle cx="230.6" cy="308.7" r="1.65" fill="#0a0aff"/>
<line x1="228.1" y1="303.6" x2="233.1" y2="303.6" stroke="#222" stroke-width="0.8"/>
<line x1="253.8" y1="303.5" x2="253.8" y2="301.5" stroke="#ff2b2b" stroke-width="0.6"/>
<line x1="251.6" y1="303.5" x2="256" y2="303.5" stroke="#ff2b2b" stroke-width="0.6"/>
<line x1="251.6" y1="301.5" x2="256" y2="301.5" stroke="#ff2b2b" stroke-width="0.6"/>
<line x1="252.8" y1="302.6" x2="254.8" y2="302.6" stroke="#555" stroke-width="0.7"/>
<circle cx="252.2" cy="303.2" r="1.65" fill="#ff2b2b"/>
<circle cx="254.2" cy="302.4" r="1.65" fill="#ff2b2b"/>
<circle cx="255.2" cy="303.6" r="1.65" fill="#ff2b2b"/>
<circle cx="253.4" cy="301.8" r="1.65" fill="#ff2b2b"/>
<line x1="260" y1="305.2" x2="260" y2="283" stroke="#6666ff" stroke-width="0.6"/>
<line x1="258.2" y1="305.2" x2="261.8" y2="305.2" stroke="#6666ff" stroke-width="0.6"/>
<line x1="258.2" y1="283" x2="261.8" y2="283" stroke="#6666ff" stroke-width="0.6"/>
<circle cx="259.7" cy="283" r="1.65" fill="#0a0aff"/>
<circle cx="260.7" cy="299.5" r="1.65" fill="#0a0aff"/>
<circle cx="259.3" cy="302.2" r="1.65" fill="#0a0aff"/>
<line x1="258" y1="295.1" x2="262" y2="295.1" stroke="#999" stroke-width="0.8"/>
<line x1="283.4" y1="321.7" x2="283.4" y2="287.5" stroke="#ff9999" stroke-width="0.6"/>
<line x1="281.6" y1="321.7" x2="285.2" y2="321.7" stroke="#ff9999" stroke-width="0.6"/>
<line x1="281.6" y1="287.5" x2="285.2" y2="287.5" stroke="#ff9999" stroke-width="0.6"/>
<circle cx="283.4" cy="289.7" r="1.65" fill="#ff2b2b"/>
<circle cx="283.4" cy="300.2" r="1.65" fill="#ff2b2b"/>
<circle cx="283.4" cy="321.7" r="1.65" fill="#ff2b2b"/>
<line x1="281.4" y1="303.8" x2="285.4" y2="303.8" stroke="#999" stroke-width="0.8"/>
<line x1="289.4" y1="296.5" x2="289.4" y2="286.7" stroke="#0a0aff" stroke-width="0.6"/>
<line x1="287.6" y1="296.5" x2="291.2" y2="296.5" stroke="#0a0aff" stroke-width="0.6"/>
<line x1="287.6" y1="286.7" x2="291.2" y2="286.7" stroke="#0a0aff" stroke-width="0.6"/>
<circle cx="289.4" cy="286.7" r="1.65" fill="#0a0aff"/>
<circle cx="289.4" cy="290.1" r="1.65" fill="#0a0aff"/>
<circle cx="289.4" cy="296.5" r="1.65" fill="#0a0aff"/>
<line x1="287.15" y1="291.1" x2="291.65" y2="291.1" stroke="#222" stroke-width="0.8"/>
<line x1="325.1" y1="280.6" x2="325.1" y2="295.4" stroke="#000" stroke-width="0.6"/>
<line x1="322.6" y1="289.7" x2="327.6" y2="289.7" stroke="#000" stroke-width="0.6"/>
<polygon points="325.1,279.4 323.2,282.8 327,282.8" fill="#000"/>
<polygon points="324.8,291.6 322.9,295 326.7,295" fill="#000"/>
<polygon points="325.6,293.1 323.8,296.33 327.41,296.33" fill="#000"/>
<rect x="329" y="350.2" width="4.6" height="2.9" rx="0.9" fill="#000"/>
<line x1="220.2" y1="287.7" x2="231.9" y2="287.7" stroke="#888" stroke-width="0.7"/>
<text transform="translate(225.5 282.8) scale(1 1.13)" font-size="5.9" text-anchor="middle" fill="#111" stroke="#111" stroke-width="0.07" font-weight="normal" dominant-baseline="central">0.05</text>
<circle cx="344.8" cy="279.8" r="1.85" fill="#ff2b2b"/>
<text transform="translate(353.8 280.3) scale(1 1.13)" font-size="6.6" text-anchor="start" fill="#111" stroke="#111" stroke-width="0.07" font-weight="normal" dominant-baseline="central">WT</text>
<circle cx="344.8" cy="290.2" r="1.85" fill="#0a0aff"/>
<text transform="translate(353.8 290.7) scale(1 1.13)" font-size="6.6" text-anchor="start" fill="#111" stroke="#111" stroke-width="0.07" font-weight="normal" dominant-baseline="central">SA</text>
<polygon points="358.9,297.8 357.09,301.03 360.7,301.03" fill="#000"/>
<text transform="translate(368.1 300.3) scale(1 1.13)" font-size="6.4" text-anchor="start" fill="#111" stroke="#111" stroke-width="0.07" font-weight="normal" dominant-baseline="central">Positive Control</text>
<polygon points="358.9,311.1 357.09,307.87 360.7,307.87" fill="#000"/>
<text transform="translate(368.1 310.4) scale(1 1.13)" font-size="6.4" text-anchor="start" fill="#111" stroke="#111" stroke-width="0.07" font-weight="normal" dominant-baseline="central">Negative Control</text>
</svg></body></html>
